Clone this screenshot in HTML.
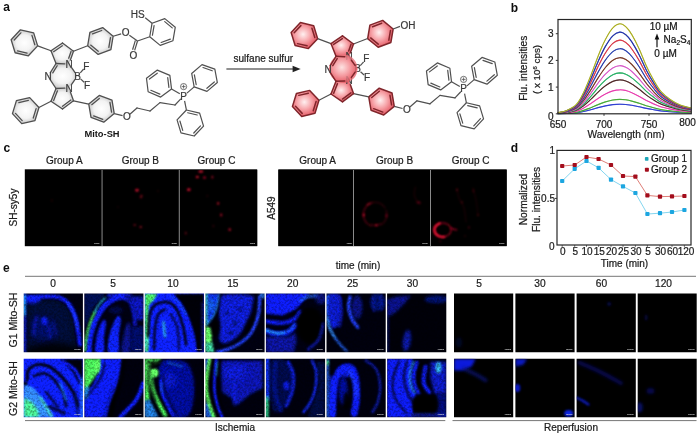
<!DOCTYPE html><html><head><meta charset="utf-8"><title>Figure</title>
<style>html,body{margin:0;padding:0;background:#fff}svg{display:block}text{font-family:"Liberation Sans", Arial, sans-serif}</style></head><body>
<svg width="700" height="435" viewBox="0 0 700 435">
<defs>
<radialGradient id="gG" cx="0.5" cy="0.5" r="0.6"><stop offset="0" stop-color="#fff"/><stop offset="0.5" stop-color="#f3f3f3"/><stop offset="1" stop-color="#b4b4b4"/></radialGradient>
<radialGradient id="gRo" cx="0.45" cy="0.45" r="0.6"><stop offset="0" stop-color="#fde0e0" stop-opacity="0.9"/><stop offset="0.5" stop-color="#f59aa0" stop-opacity="0.8"/><stop offset="1" stop-color="#e2505a" stop-opacity="0.75"/></radialGradient>
<radialGradient id="gR" cx="0.45" cy="0.45" r="0.62"><stop offset="0" stop-color="#fff0f0"/><stop offset="0.45" stop-color="#f7a5aa"/><stop offset="1" stop-color="#df4753"/></radialGradient>
<filter id="soft" x="-5%" y="-5%" width="110%" height="110%"><feGaussianBlur stdDeviation="0.42"/></filter>
<filter id="b0" filterUnits="userSpaceOnUse" x="-15" y="-15" width="110" height="110"><feGaussianBlur stdDeviation="0.25"/></filter><filter id="b1" filterUnits="userSpaceOnUse" x="-15" y="-15" width="110" height="110"><feGaussianBlur stdDeviation="0.9"/></filter><filter id="b2" filterUnits="userSpaceOnUse" x="-15" y="-15" width="110" height="110"><feGaussianBlur stdDeviation="1.8"/></filter><filter id="b3" filterUnits="userSpaceOnUse" x="-15" y="-15" width="110" height="110"><feGaussianBlur stdDeviation="3.2"/></filter><filter id="tex" filterUnits="userSpaceOnUse" x="0" y="0" width="62" height="62" color-interpolation-filters="sRGB"><feTurbulence type="fractalNoise" baseFrequency="0.45" numOctaves="2" seed="7" result="n"/><feColorMatrix in="n" type="matrix" values="2.0 0 0 0 -0.5  2.0 0 0 0 -0.5  2.0 0 0 0 -0.5  0 0 0 0 1" result="g0"/><feGaussianBlur in="g0" stdDeviation="0.45" result="g"/><feComposite in="SourceGraphic" in2="g" operator="arithmetic" k1="0.5" k2="0.78" k3="0" k4="0"/></filter>
</defs>
<rect width="700" height="435" fill="#fff"/>
<g id="panel-a" filter="url(#soft)">
<text x="3.20" y="10.80" font-size="12" text-anchor="start" font-weight="bold" fill="#111" >a</text>
<g transform="translate(0,0)"><polygon points="56.00,63.50 51.00,50.80 62.50,43.00 73.50,51.20 69.00,64.00" fill="url(#gG)"/><polygon points="56.00,88.50 51.00,101.20 62.50,109.00 73.50,100.80 69.00,88.00" fill="url(#gG)"/><polygon points="56.00,63.50 69.00,64.00 77.50,76.00 69.00,88.00 56.00,88.50 48.00,76.40" fill="url(#gG)"/><text x="69.00" y="67.50" font-size="10" text-anchor="middle" font-weight="normal" fill="#3a3a3a" stroke="#3a3a3a" stroke-width="0.22" >N</text><text x="69.00" y="91.50" font-size="10" text-anchor="middle" font-weight="normal" fill="#3a3a3a" stroke="#3a3a3a" stroke-width="0.22" >N</text><text x="77.50" y="79.50" font-size="10" text-anchor="middle" font-weight="normal" fill="#3a3a3a" stroke="#3a3a3a" stroke-width="0.22" >B</text><polygon points="37.65,45.86 28.38,55.81 15.12,52.75 11.15,39.74 20.42,29.79 33.68,32.85" fill="url(#gG)" stroke="#505050" stroke-width="1.3" stroke-linejoin="round"/><line x1="27.06" y1="53.04" x2="17.52" y2="50.84" stroke="#505050" stroke-width="1.3" stroke-linecap="round"/><line x1="14.20" y1="39.98" x2="20.88" y2="32.82" stroke="#505050" stroke-width="1.3" stroke-linecap="round"/><line x1="31.94" y1="35.38" x2="34.80" y2="44.74" stroke="#505050" stroke-width="1.3" stroke-linecap="round"/><polygon points="113.14,36.24 110.89,49.65 98.16,54.41 87.66,45.76 89.91,32.35 102.64,27.59" fill="url(#gG)" stroke="#505050" stroke-width="1.3" stroke-linejoin="round"/><line x1="110.46" y1="37.72" x2="108.84" y2="47.38" stroke="#505050" stroke-width="1.3" stroke-linecap="round"/><line x1="98.21" y1="51.35" x2="90.66" y2="45.12" stroke="#505050" stroke-width="1.3" stroke-linecap="round"/><line x1="92.53" y1="33.93" x2="101.70" y2="30.50" stroke="#505050" stroke-width="1.3" stroke-linecap="round"/><polygon points="38.95,107.54 34.98,120.55 21.72,123.61 12.45,113.66 16.42,100.65 29.68,97.59" fill="url(#gG)" stroke="#505050" stroke-width="1.3" stroke-linejoin="round"/><line x1="36.10" y1="108.66" x2="33.24" y2="118.02" stroke="#505050" stroke-width="1.3" stroke-linecap="round"/><line x1="22.18" y1="120.58" x2="15.50" y2="113.42" stroke="#505050" stroke-width="1.3" stroke-linecap="round"/><line x1="18.82" y1="102.56" x2="28.36" y2="100.36" stroke="#505050" stroke-width="1.3" stroke-linecap="round"/><polygon points="114.24,113.56 103.74,122.21 91.01,117.45 88.76,104.04 99.26,95.39 111.99,100.15" fill="url(#gG)" stroke="#505050" stroke-width="1.3" stroke-linejoin="round"/><line x1="102.80" y1="119.30" x2="93.63" y2="115.87" stroke="#505050" stroke-width="1.3" stroke-linecap="round"/><line x1="91.76" y1="104.68" x2="99.31" y2="98.45" stroke="#505050" stroke-width="1.3" stroke-linecap="round"/><line x1="109.94" y1="102.42" x2="111.56" y2="112.08" stroke="#505050" stroke-width="1.3" stroke-linecap="round"/><line x1="37.65" y1="45.86" x2="51.00" y2="50.80" stroke="#505050" stroke-width="1.2" /><line x1="87.66" y1="45.76" x2="73.50" y2="51.20" stroke="#505050" stroke-width="1.2" /><line x1="38.95" y1="107.54" x2="51.00" y2="101.20" stroke="#505050" stroke-width="1.2" /><line x1="88.76" y1="104.04" x2="73.50" y2="100.80" stroke="#505050" stroke-width="1.2" /><line x1="56.00" y1="63.50" x2="51.00" y2="50.80" stroke="#505050" stroke-width="1.3" stroke-linecap="round"/><line x1="51.00" y1="50.80" x2="62.50" y2="43.00" stroke="#505050" stroke-width="1.3" stroke-linecap="round"/><line x1="62.50" y1="43.00" x2="73.50" y2="51.20" stroke="#505050" stroke-width="1.3" stroke-linecap="round"/><line x1="73.50" y1="51.20" x2="70.39" y2="60.04" stroke="#505050" stroke-width="1.3" stroke-linecap="round"/><line x1="64.80" y1="63.84" x2="56.00" y2="63.50" stroke="#505050" stroke-width="1.3" stroke-linecap="round"/><line x1="56.00" y1="88.50" x2="51.00" y2="101.20" stroke="#505050" stroke-width="1.3" stroke-linecap="round"/><line x1="51.00" y1="101.20" x2="62.50" y2="109.00" stroke="#505050" stroke-width="1.3" stroke-linecap="round"/><line x1="62.50" y1="109.00" x2="73.50" y2="100.80" stroke="#505050" stroke-width="1.3" stroke-linecap="round"/><line x1="73.50" y1="100.80" x2="70.39" y2="91.96" stroke="#505050" stroke-width="1.3" stroke-linecap="round"/><line x1="64.80" y1="88.16" x2="56.00" y2="88.50" stroke="#505050" stroke-width="1.3" stroke-linecap="round"/><line x1="56.00" y1="63.50" x2="50.21" y2="72.83" stroke="#505050" stroke-width="1.3" stroke-linecap="round"/><line x1="56.00" y1="88.50" x2="50.32" y2="79.90" stroke="#505050" stroke-width="1.3" stroke-linecap="round"/><line x1="71.43" y1="67.43" x2="75.07" y2="72.57" stroke="#505050" stroke-width="1.3" stroke-linecap="round"/><line x1="71.43" y1="84.57" x2="75.07" y2="79.43" stroke="#505050" stroke-width="1.3" stroke-linecap="round"/><line x1="53.61" y1="51.68" x2="62.35" y2="45.76" stroke="#505050" stroke-width="1.3" stroke-linecap="round"/><line x1="71.05" y1="51.53" x2="68.69" y2="58.25" stroke="#505050" stroke-width="1.3" stroke-linecap="round"/><line x1="57.18" y1="65.78" x2="52.78" y2="72.87" stroke="#505050" stroke-width="1.3" stroke-linecap="round"/><line x1="57.45" y1="90.83" x2="53.65" y2="100.48" stroke="#505050" stroke-width="1.3" stroke-linecap="round"/><line x1="62.51" y1="106.25" x2="70.87" y2="100.02" stroke="#505050" stroke-width="1.3" stroke-linecap="round"/><line x1="80.27" y1="72.85" x2="83.66" y2="69.00" stroke="#505050" stroke-width="1.2" /><line x1="80.55" y1="78.89" x2="84.10" y2="82.25" stroke="#505050" stroke-width="1.2" /><text x="48.00" y="79.90" font-size="10" text-anchor="middle" font-weight="normal" fill="#3a3a3a" stroke="#3a3a3a" stroke-width="0.22" >N</text><text x="86.30" y="69.50" font-size="10" text-anchor="middle" font-weight="normal" fill="#3a3a3a" stroke="#3a3a3a" stroke-width="0.22" >F</text><text x="87.00" y="88.50" font-size="10" text-anchor="middle" font-weight="normal" fill="#3a3a3a" stroke="#3a3a3a" stroke-width="0.22" >F</text><line x1="114.24" y1="113.56" x2="122.54" y2="115.67" stroke="#505050" stroke-width="1.2" /><line x1="130.45" y1="113.76" x2="137.00" y2="108.00" stroke="#505050" stroke-width="1.2" stroke-linecap="round"/><line x1="137.00" y1="108.00" x2="150.00" y2="111.00" stroke="#505050" stroke-width="1.2" stroke-linecap="round"/><line x1="150.00" y1="111.00" x2="160.00" y2="102.60" stroke="#505050" stroke-width="1.2" stroke-linecap="round"/><line x1="160.00" y1="102.60" x2="175.00" y2="105.00" stroke="#505050" stroke-width="1.2" stroke-linecap="round"/><line x1="175.00" y1="105.00" x2="180.56" y2="99.18" stroke="#505050" stroke-width="1.2" stroke-linecap="round"/><text x="127.00" y="120.40" font-size="10" text-anchor="middle" font-weight="normal" fill="#3a3a3a" stroke="#3a3a3a" stroke-width="0.22" >O</text><text x="183.60" y="99.60" font-size="10" text-anchor="middle" font-weight="normal" fill="#3a3a3a" stroke="#3a3a3a" stroke-width="0.22" >P</text><polygon points="171.52,88.91 160.66,97.10 148.14,91.78 146.48,78.29 157.34,70.10 169.86,75.42" fill="none" stroke="#505050" stroke-width="1.2" stroke-linejoin="round"/><line x1="159.84" y1="94.15" x2="150.83" y2="90.32" stroke="#505050" stroke-width="1.2" stroke-linecap="round"/><line x1="149.45" y1="79.06" x2="157.27" y2="73.16" stroke="#505050" stroke-width="1.2" stroke-linecap="round"/><line x1="167.71" y1="77.60" x2="168.90" y2="87.32" stroke="#505050" stroke-width="1.2" stroke-linecap="round"/><polygon points="217.33,82.52 207.00,91.37 194.17,86.85 191.67,73.48 202.00,64.63 214.83,69.15" fill="none" stroke="#505050" stroke-width="1.2" stroke-linejoin="round"/><line x1="214.32" y1="81.93" x2="206.89" y2="88.31" stroke="#505050" stroke-width="1.2" stroke-linecap="round"/><line x1="196.18" y1="84.54" x2="194.38" y2="74.91" stroke="#505050" stroke-width="1.2" stroke-linecap="round"/><line x1="203.00" y1="67.53" x2="212.23" y2="70.78" stroke="#505050" stroke-width="1.2" stroke-linecap="round"/><polygon points="203.54,126.13 194.21,136.03 180.97,132.90 177.06,119.87 186.39,109.97 199.63,113.10" fill="none" stroke="#505050" stroke-width="1.2" stroke-linejoin="round"/><line x1="200.48" y1="125.87" x2="193.77" y2="132.99" stroke="#505050" stroke-width="1.2" stroke-linecap="round"/><line x1="182.72" y1="130.38" x2="179.91" y2="121.01" stroke="#505050" stroke-width="1.2" stroke-linecap="round"/><line x1="187.69" y1="112.75" x2="197.22" y2="115.00" stroke="#505050" stroke-width="1.2" stroke-linecap="round"/><line x1="171.52" y1="88.91" x2="179.80" y2="93.77" stroke="#505050" stroke-width="1.2" /><line x1="194.17" y1="86.85" x2="186.93" y2="93.12" stroke="#505050" stroke-width="1.2" /><line x1="186.39" y1="109.97" x2="184.58" y2="100.90" stroke="#505050" stroke-width="1.2" /><circle cx="183.6" cy="86.6" r="3.1" fill="none" stroke="#505050" stroke-width="0.8"/><line x1="181.60" y1="86.60" x2="185.60" y2="86.60" stroke="#505050" stroke-width="0.8" /><line x1="183.60" y1="84.60" x2="183.60" y2="88.60" stroke="#505050" stroke-width="0.8" /><line x1="113.14" y1="36.24" x2="121.18" y2="33.89" stroke="#505050" stroke-width="1.2" /><line x1="129.36" y1="35.25" x2="137.50" y2="41.00" stroke="#505050" stroke-width="1.2" /><line x1="137.50" y1="41.00" x2="134.68" y2="50.40" stroke="#505050" stroke-width="1.2" /><line x1="135.39" y1="40.37" x2="132.57" y2="49.77" stroke="#505050" stroke-width="1.2" /><text x="125.60" y="36.20" font-size="10" text-anchor="middle" font-weight="normal" fill="#3a3a3a" stroke="#3a3a3a" stroke-width="0.22" >O</text><text x="133.30" y="58.60" font-size="10" text-anchor="middle" font-weight="normal" fill="#3a3a3a" stroke="#3a3a3a" stroke-width="0.22" >O</text><polygon points="175.26,27.28 172.96,40.69 160.21,45.41 149.74,36.72 152.04,23.31 164.79,18.59" fill="none" stroke="#505050" stroke-width="1.2" stroke-linejoin="round"/><line x1="170.35" y1="39.10" x2="161.16" y2="42.49" stroke="#505050" stroke-width="1.2" stroke-linecap="round"/><line x1="152.43" y1="35.25" x2="154.08" y2="25.59" stroke="#505050" stroke-width="1.2" stroke-linecap="round"/><line x1="164.72" y1="21.66" x2="172.26" y2="27.91" stroke="#505050" stroke-width="1.2" stroke-linecap="round"/><line x1="137.50" y1="41.00" x2="149.74" y2="36.72" stroke="#505050" stroke-width="1.2" /><text x="144.60" y="18.00" font-size="10" text-anchor="end" font-weight="normal" fill="#3a3a3a" stroke="#3a3a3a" stroke-width="0.22" >HS</text><line x1="145.20" y1="17.80" x2="152.04" y2="23.31" stroke="#505050" stroke-width="1.2" /><text x="102.00" y="136.60" font-size="9.3" text-anchor="middle" font-weight="bold" fill="#151515" >Mito-SH</text></g>
<g transform="translate(280,-7.2)"><polygon points="56.00,63.50 51.00,50.80 62.50,43.00 73.50,51.20 69.00,64.00" fill="url(#gR)"/><polygon points="56.00,88.50 51.00,101.20 62.50,109.00 73.50,100.80 69.00,88.00" fill="url(#gR)"/><polygon points="56.00,63.50 69.00,64.00 77.50,76.00 69.00,88.00 56.00,88.50 48.00,76.40" fill="url(#gR)"/><text x="69.00" y="67.50" font-size="10" text-anchor="middle" font-weight="normal" fill="#3a3a3a" stroke="#3a3a3a" stroke-width="0.22" >N</text><text x="69.00" y="91.50" font-size="10" text-anchor="middle" font-weight="normal" fill="#3a3a3a" stroke="#3a3a3a" stroke-width="0.22" >N</text><text x="77.50" y="79.50" font-size="10" text-anchor="middle" font-weight="normal" fill="#3a3a3a" stroke="#3a3a3a" stroke-width="0.22" >B</text><circle cx="63.3" cy="76" r="14.2" fill="url(#gRo)"/><polygon points="37.65,45.86 28.38,55.81 15.12,52.75 11.15,39.74 20.42,29.79 33.68,32.85" fill="url(#gR)" stroke="#80262c" stroke-width="1.5" stroke-linejoin="round"/><line x1="27.06" y1="53.04" x2="17.52" y2="50.84" stroke="#80262c" stroke-width="1.5" stroke-linecap="round"/><line x1="14.20" y1="39.98" x2="20.88" y2="32.82" stroke="#80262c" stroke-width="1.5" stroke-linecap="round"/><line x1="31.94" y1="35.38" x2="34.80" y2="44.74" stroke="#80262c" stroke-width="1.5" stroke-linecap="round"/><polygon points="113.14,36.24 110.89,49.65 98.16,54.41 87.66,45.76 89.91,32.35 102.64,27.59" fill="url(#gR)" stroke="#80262c" stroke-width="1.5" stroke-linejoin="round"/><line x1="110.46" y1="37.72" x2="108.84" y2="47.38" stroke="#80262c" stroke-width="1.5" stroke-linecap="round"/><line x1="98.21" y1="51.35" x2="90.66" y2="45.12" stroke="#80262c" stroke-width="1.5" stroke-linecap="round"/><line x1="92.53" y1="33.93" x2="101.70" y2="30.50" stroke="#80262c" stroke-width="1.5" stroke-linecap="round"/><polygon points="38.95,107.54 34.98,120.55 21.72,123.61 12.45,113.66 16.42,100.65 29.68,97.59" fill="url(#gR)" stroke="#80262c" stroke-width="1.5" stroke-linejoin="round"/><line x1="36.10" y1="108.66" x2="33.24" y2="118.02" stroke="#80262c" stroke-width="1.5" stroke-linecap="round"/><line x1="22.18" y1="120.58" x2="15.50" y2="113.42" stroke="#80262c" stroke-width="1.5" stroke-linecap="round"/><line x1="18.82" y1="102.56" x2="28.36" y2="100.36" stroke="#80262c" stroke-width="1.5" stroke-linecap="round"/><polygon points="114.24,113.56 103.74,122.21 91.01,117.45 88.76,104.04 99.26,95.39 111.99,100.15" fill="url(#gR)" stroke="#80262c" stroke-width="1.5" stroke-linejoin="round"/><line x1="102.80" y1="119.30" x2="93.63" y2="115.87" stroke="#80262c" stroke-width="1.5" stroke-linecap="round"/><line x1="91.76" y1="104.68" x2="99.31" y2="98.45" stroke="#80262c" stroke-width="1.5" stroke-linecap="round"/><line x1="109.94" y1="102.42" x2="111.56" y2="112.08" stroke="#80262c" stroke-width="1.5" stroke-linecap="round"/><line x1="37.65" y1="45.86" x2="51.00" y2="50.80" stroke="#505050" stroke-width="1.2" /><line x1="87.66" y1="45.76" x2="73.50" y2="51.20" stroke="#505050" stroke-width="1.2" /><line x1="38.95" y1="107.54" x2="51.00" y2="101.20" stroke="#505050" stroke-width="1.2" /><line x1="88.76" y1="104.04" x2="73.50" y2="100.80" stroke="#505050" stroke-width="1.2" /><line x1="56.00" y1="63.50" x2="51.00" y2="50.80" stroke="#80262c" stroke-width="1.5" stroke-linecap="round"/><line x1="51.00" y1="50.80" x2="62.50" y2="43.00" stroke="#80262c" stroke-width="1.5" stroke-linecap="round"/><line x1="62.50" y1="43.00" x2="73.50" y2="51.20" stroke="#80262c" stroke-width="1.5" stroke-linecap="round"/><line x1="73.50" y1="51.20" x2="70.39" y2="60.04" stroke="#80262c" stroke-width="1.5" stroke-linecap="round"/><line x1="64.80" y1="63.84" x2="56.00" y2="63.50" stroke="#80262c" stroke-width="1.5" stroke-linecap="round"/><line x1="56.00" y1="88.50" x2="51.00" y2="101.20" stroke="#80262c" stroke-width="1.5" stroke-linecap="round"/><line x1="51.00" y1="101.20" x2="62.50" y2="109.00" stroke="#80262c" stroke-width="1.5" stroke-linecap="round"/><line x1="62.50" y1="109.00" x2="73.50" y2="100.80" stroke="#80262c" stroke-width="1.5" stroke-linecap="round"/><line x1="73.50" y1="100.80" x2="70.39" y2="91.96" stroke="#80262c" stroke-width="1.5" stroke-linecap="round"/><line x1="64.80" y1="88.16" x2="56.00" y2="88.50" stroke="#80262c" stroke-width="1.5" stroke-linecap="round"/><line x1="56.00" y1="63.50" x2="50.21" y2="72.83" stroke="#80262c" stroke-width="1.5" stroke-linecap="round"/><line x1="56.00" y1="88.50" x2="50.32" y2="79.90" stroke="#80262c" stroke-width="1.5" stroke-linecap="round"/><line x1="71.43" y1="67.43" x2="75.07" y2="72.57" stroke="#80262c" stroke-width="1.5" stroke-linecap="round"/><line x1="71.43" y1="84.57" x2="75.07" y2="79.43" stroke="#80262c" stroke-width="1.5" stroke-linecap="round"/><line x1="53.61" y1="51.68" x2="62.35" y2="45.76" stroke="#80262c" stroke-width="1.5" stroke-linecap="round"/><line x1="71.05" y1="51.53" x2="68.69" y2="58.25" stroke="#80262c" stroke-width="1.5" stroke-linecap="round"/><line x1="57.18" y1="65.78" x2="52.78" y2="72.87" stroke="#80262c" stroke-width="1.5" stroke-linecap="round"/><line x1="57.45" y1="90.83" x2="53.65" y2="100.48" stroke="#80262c" stroke-width="1.5" stroke-linecap="round"/><line x1="62.51" y1="106.25" x2="70.87" y2="100.02" stroke="#80262c" stroke-width="1.5" stroke-linecap="round"/><line x1="80.27" y1="72.85" x2="83.66" y2="69.00" stroke="#505050" stroke-width="1.2" /><line x1="80.55" y1="78.89" x2="84.10" y2="82.25" stroke="#505050" stroke-width="1.2" /><text x="48.00" y="79.90" font-size="10" text-anchor="middle" font-weight="normal" fill="#3a3a3a" stroke="#3a3a3a" stroke-width="0.22" >N</text><text x="86.30" y="69.50" font-size="10" text-anchor="middle" font-weight="normal" fill="#3a3a3a" stroke="#3a3a3a" stroke-width="0.22" >F</text><text x="87.00" y="88.50" font-size="10" text-anchor="middle" font-weight="normal" fill="#3a3a3a" stroke="#3a3a3a" stroke-width="0.22" >F</text><line x1="114.24" y1="113.56" x2="122.54" y2="115.67" stroke="#505050" stroke-width="1.2" /><line x1="130.45" y1="113.76" x2="137.00" y2="108.00" stroke="#505050" stroke-width="1.2" stroke-linecap="round"/><line x1="137.00" y1="108.00" x2="150.00" y2="111.00" stroke="#505050" stroke-width="1.2" stroke-linecap="round"/><line x1="150.00" y1="111.00" x2="160.00" y2="102.60" stroke="#505050" stroke-width="1.2" stroke-linecap="round"/><line x1="160.00" y1="102.60" x2="175.00" y2="105.00" stroke="#505050" stroke-width="1.2" stroke-linecap="round"/><line x1="175.00" y1="105.00" x2="180.56" y2="99.18" stroke="#505050" stroke-width="1.2" stroke-linecap="round"/><text x="127.00" y="120.40" font-size="10" text-anchor="middle" font-weight="normal" fill="#3a3a3a" stroke="#3a3a3a" stroke-width="0.22" >O</text><text x="183.60" y="99.60" font-size="10" text-anchor="middle" font-weight="normal" fill="#3a3a3a" stroke="#3a3a3a" stroke-width="0.22" >P</text><polygon points="171.52,88.91 160.66,97.10 148.14,91.78 146.48,78.29 157.34,70.10 169.86,75.42" fill="none" stroke="#505050" stroke-width="1.2" stroke-linejoin="round"/><line x1="159.84" y1="94.15" x2="150.83" y2="90.32" stroke="#505050" stroke-width="1.2" stroke-linecap="round"/><line x1="149.45" y1="79.06" x2="157.27" y2="73.16" stroke="#505050" stroke-width="1.2" stroke-linecap="round"/><line x1="167.71" y1="77.60" x2="168.90" y2="87.32" stroke="#505050" stroke-width="1.2" stroke-linecap="round"/><polygon points="217.33,82.52 207.00,91.37 194.17,86.85 191.67,73.48 202.00,64.63 214.83,69.15" fill="none" stroke="#505050" stroke-width="1.2" stroke-linejoin="round"/><line x1="214.32" y1="81.93" x2="206.89" y2="88.31" stroke="#505050" stroke-width="1.2" stroke-linecap="round"/><line x1="196.18" y1="84.54" x2="194.38" y2="74.91" stroke="#505050" stroke-width="1.2" stroke-linecap="round"/><line x1="203.00" y1="67.53" x2="212.23" y2="70.78" stroke="#505050" stroke-width="1.2" stroke-linecap="round"/><polygon points="203.54,126.13 194.21,136.03 180.97,132.90 177.06,119.87 186.39,109.97 199.63,113.10" fill="none" stroke="#505050" stroke-width="1.2" stroke-linejoin="round"/><line x1="200.48" y1="125.87" x2="193.77" y2="132.99" stroke="#505050" stroke-width="1.2" stroke-linecap="round"/><line x1="182.72" y1="130.38" x2="179.91" y2="121.01" stroke="#505050" stroke-width="1.2" stroke-linecap="round"/><line x1="187.69" y1="112.75" x2="197.22" y2="115.00" stroke="#505050" stroke-width="1.2" stroke-linecap="round"/><line x1="171.52" y1="88.91" x2="179.80" y2="93.77" stroke="#505050" stroke-width="1.2" /><line x1="194.17" y1="86.85" x2="186.93" y2="93.12" stroke="#505050" stroke-width="1.2" /><line x1="186.39" y1="109.97" x2="184.58" y2="100.90" stroke="#505050" stroke-width="1.2" /><circle cx="183.6" cy="86.6" r="3.1" fill="none" stroke="#505050" stroke-width="0.8"/><line x1="181.60" y1="86.60" x2="185.60" y2="86.60" stroke="#505050" stroke-width="0.8" /><line x1="183.60" y1="84.60" x2="183.60" y2="88.60" stroke="#505050" stroke-width="0.8" /><text x="120.60" y="35.80" font-size="10" text-anchor="start" font-weight="normal" fill="#3a3a3a" stroke="#3a3a3a" stroke-width="0.22" >OH</text><line x1="113.14" y1="36.24" x2="120.00" y2="33.60" stroke="#505050" stroke-width="1.2" /></g>
<line x1="226.40" y1="69.00" x2="294.00" y2="69.00" stroke="#222" stroke-width="1.1" />
<polygon points="300.6,69 292.6,65.8 292.6,72.2" fill="#222"/>
<text x="263.30" y="62.00" font-size="10" text-anchor="middle" font-weight="normal" fill="#1c1c1c" stroke="#1c1c1c" stroke-width="0.22" >sulfane sulfur</text>
</g>
<g id="panel-b" filter="url(#soft)">
<text x="510.80" y="12.20" font-size="12" text-anchor="start" font-weight="bold" fill="#111" >b</text>
<path d="M557.8,113.7 C559.3,113.6 563.7,113.6 566.8,113.4 C569.9,113.3 573.6,113.1 576.4,112.8 C579.2,112.5 581.2,112.0 583.6,111.5 C586.0,111.0 588.4,110.4 590.8,109.7 C593.2,109.1 595.7,108.3 598.1,107.6 C600.5,107.0 602.9,106.4 605.4,105.9 C607.9,105.4 610.4,104.9 612.8,104.6 C615.2,104.3 617.6,104.2 619.8,104.2 C622.0,104.2 623.8,104.3 625.8,104.5 C627.8,104.7 629.6,105.0 631.8,105.3 C634.0,105.7 636.8,106.3 639.2,106.8 C641.6,107.3 644.0,107.9 646.4,108.4 C648.8,108.9 651.3,109.3 653.7,109.7 C656.1,110.1 658.0,110.5 660.8,110.9 C663.6,111.2 667.4,111.5 670.6,111.8 C673.8,112.1 676.8,112.3 680.2,112.5 C683.6,112.7 689.3,112.9 691.1,113.0" fill="none" stroke="#4050e0" stroke-width="1.15" stroke-linejoin="round"/>
<path d="M557.8,113.7 C559.3,113.6 563.7,113.6 566.8,113.4 C569.9,113.3 573.6,113.1 576.4,112.8 C579.2,112.5 581.2,112.0 583.6,111.5 C586.0,111.0 588.4,110.4 590.8,109.7 C593.2,109.1 595.7,108.3 598.1,107.6 C600.5,107.0 602.9,106.4 605.4,105.9 C607.9,105.4 610.4,104.9 612.8,104.6 C615.2,104.3 617.6,104.2 619.8,104.2 C622.0,104.2 623.8,104.3 625.8,104.5 C627.8,104.7 629.6,105.0 631.8,105.3 C634.0,105.7 636.8,106.3 639.2,106.8 C641.6,107.3 644.0,107.9 646.4,108.4 C648.8,108.9 651.3,109.3 653.7,109.7 C656.1,110.1 658.0,110.5 660.8,110.9 C663.6,111.2 667.4,111.5 670.6,111.8 C673.8,112.1 676.8,112.3 680.2,112.5 C683.6,112.7 689.3,112.9 691.1,113.0" fill="none" stroke="#2535c5" stroke-width="0.65" stroke-linejoin="round"/>
<path d="M557.8,113.6 C559.3,113.6 563.7,113.5 566.8,113.3 C569.9,113.0 573.6,112.8 576.4,112.3 C579.2,111.8 581.2,111.2 583.6,110.4 C586.0,109.6 588.4,108.6 590.8,107.7 C593.2,106.7 595.7,105.5 598.1,104.6 C600.5,103.6 602.9,102.7 605.4,101.9 C607.9,101.1 610.4,100.5 612.8,100.0 C615.2,99.6 617.6,99.4 619.8,99.4 C622.0,99.4 623.8,99.6 625.8,99.8 C627.8,100.1 629.6,100.5 631.8,101.1 C634.0,101.7 636.8,102.6 639.2,103.3 C641.6,104.1 644.0,105.0 646.4,105.8 C648.8,106.5 651.3,107.2 653.7,107.8 C656.1,108.4 658.0,109.0 660.8,109.5 C663.6,110.0 667.4,110.5 670.6,110.9 C673.8,111.3 676.8,111.7 680.2,111.9 C683.6,112.2 689.3,112.5 691.1,112.6" fill="none" stroke="#60b840" stroke-width="1.15" stroke-linejoin="round"/>
<path d="M557.8,113.6 C559.3,113.6 563.7,113.5 566.8,113.3 C569.9,113.0 573.6,112.8 576.4,112.3 C579.2,111.8 581.2,111.2 583.6,110.4 C586.0,109.6 588.4,108.6 590.8,107.7 C593.2,106.7 595.7,105.5 598.1,104.6 C600.5,103.6 602.9,102.7 605.4,101.9 C607.9,101.1 610.4,100.5 612.8,100.0 C615.2,99.6 617.6,99.4 619.8,99.4 C622.0,99.4 623.8,99.6 625.8,99.8 C627.8,100.1 629.6,100.5 631.8,101.1 C634.0,101.7 636.8,102.6 639.2,103.3 C641.6,104.1 644.0,105.0 646.4,105.8 C648.8,106.5 651.3,107.2 653.7,107.8 C656.1,108.4 658.0,109.0 660.8,109.5 C663.6,110.0 667.4,110.5 670.6,110.9 C673.8,111.3 676.8,111.7 680.2,111.9 C683.6,112.2 689.3,112.5 691.1,112.6" fill="none" stroke="#35a035" stroke-width="0.65" stroke-linejoin="round"/>
<path d="M557.8,113.5 C559.3,113.4 563.7,113.3 566.8,112.9 C569.9,112.5 573.6,112.1 576.4,111.3 C579.2,110.5 581.2,109.4 583.6,108.1 C586.0,106.8 588.4,105.2 590.8,103.6 C593.2,101.9 595.7,100.0 598.1,98.4 C600.5,96.8 602.9,95.2 605.4,94.0 C607.9,92.7 610.4,91.6 612.8,90.9 C615.2,90.2 617.6,89.8 619.8,89.8 C622.0,89.7 623.8,90.1 625.8,90.5 C627.8,91.0 629.6,91.7 631.8,92.7 C634.0,93.6 636.8,95.1 639.2,96.4 C641.6,97.7 644.0,99.2 646.4,100.5 C648.8,101.7 651.3,102.8 653.7,103.9 C656.1,104.9 658.0,105.9 660.8,106.8 C663.6,107.6 667.4,108.4 670.6,109.1 C673.8,109.8 676.8,110.3 680.2,110.8 C683.6,111.2 689.3,111.6 691.1,111.8" fill="none" stroke="#f060c0" stroke-width="1.15" stroke-linejoin="round"/>
<path d="M557.8,113.5 C559.3,113.4 563.7,113.3 566.8,112.9 C569.9,112.5 573.6,112.1 576.4,111.3 C579.2,110.5 581.2,109.4 583.6,108.1 C586.0,106.8 588.4,105.2 590.8,103.6 C593.2,101.9 595.7,100.0 598.1,98.4 C600.5,96.8 602.9,95.2 605.4,94.0 C607.9,92.7 610.4,91.6 612.8,90.9 C615.2,90.2 617.6,89.8 619.8,89.8 C622.0,89.7 623.8,90.1 625.8,90.5 C627.8,91.0 629.6,91.7 631.8,92.7 C634.0,93.6 636.8,95.1 639.2,96.4 C641.6,97.7 644.0,99.2 646.4,100.5 C648.8,101.7 651.3,102.8 653.7,103.9 C656.1,104.9 658.0,105.9 660.8,106.8 C663.6,107.6 667.4,108.4 670.6,109.1 C673.8,109.8 676.8,110.3 680.2,110.8 C683.6,111.2 689.3,111.6 691.1,111.8" fill="none" stroke="#e025a0" stroke-width="0.65" stroke-linejoin="round"/>
<path d="M557.8,113.4 C559.3,113.2 563.7,113.0 566.8,112.5 C569.9,112.0 573.6,111.4 576.4,110.3 C579.2,109.1 581.2,107.6 583.6,105.8 C586.0,103.9 588.4,101.6 590.8,99.4 C593.2,97.1 595.7,94.4 598.1,92.1 C600.5,89.8 602.9,87.6 605.4,85.8 C607.9,84.0 610.4,82.4 612.8,81.4 C615.2,80.4 617.6,80.0 619.8,79.9 C622.0,79.8 623.8,80.3 625.8,81.0 C627.8,81.7 629.6,82.6 631.8,84.0 C634.0,85.3 636.8,87.4 639.2,89.2 C641.6,91.1 644.0,93.3 646.4,95.1 C648.8,96.9 651.3,98.5 653.7,100.0 C656.1,101.5 658.0,102.8 660.8,104.0 C663.6,105.3 667.4,106.4 670.6,107.3 C673.8,108.2 676.8,109.0 680.2,109.7 C683.6,110.3 689.3,110.8 691.1,111.1" fill="none" stroke="#6a3a3a" stroke-width="1.15" stroke-linejoin="round"/>
<path d="M557.8,113.4 C559.3,113.2 563.7,113.0 566.8,112.5 C569.9,112.0 573.6,111.4 576.4,110.3 C579.2,109.1 581.2,107.6 583.6,105.8 C586.0,103.9 588.4,101.6 590.8,99.4 C593.2,97.1 595.7,94.4 598.1,92.1 C600.5,89.8 602.9,87.6 605.4,85.8 C607.9,84.0 610.4,82.4 612.8,81.4 C615.2,80.4 617.6,80.0 619.8,79.9 C622.0,79.8 623.8,80.3 625.8,81.0 C627.8,81.7 629.6,82.6 631.8,84.0 C634.0,85.3 636.8,87.4 639.2,89.2 C641.6,91.1 644.0,93.3 646.4,95.1 C648.8,96.9 651.3,98.5 653.7,100.0 C656.1,101.5 658.0,102.8 660.8,104.0 C663.6,105.3 667.4,106.4 670.6,107.3 C673.8,108.2 676.8,109.0 680.2,109.7 C683.6,110.3 689.3,110.8 691.1,111.1" fill="none" stroke="#3a2222" stroke-width="0.65" stroke-linejoin="round"/>
<path d="M557.8,113.3 C559.3,113.1 563.7,112.9 566.8,112.2 C569.9,111.6 573.6,110.9 576.4,109.6 C579.2,108.2 581.2,106.3 583.6,104.1 C586.0,101.9 588.4,99.1 590.8,96.4 C593.2,93.7 595.7,90.4 598.1,87.7 C600.5,84.9 602.9,82.2 605.4,80.1 C607.9,78.0 610.4,76.0 612.8,74.8 C615.2,73.6 617.6,73.0 619.8,72.9 C622.0,72.9 623.8,73.4 625.8,74.3 C627.8,75.1 629.6,76.2 631.8,77.9 C634.0,79.5 636.8,82.0 639.2,84.2 C641.6,86.5 644.0,89.2 646.4,91.4 C648.8,93.6 651.3,95.5 653.7,97.3 C656.1,99.2 658.0,100.8 660.8,102.3 C663.6,103.7 667.4,105.1 670.6,106.2 C673.8,107.3 676.8,108.2 680.2,109.0 C683.6,109.7 689.3,110.3 691.1,110.6" fill="none" stroke="#2fae4a" stroke-width="1.15" stroke-linejoin="round"/>
<path d="M557.8,113.3 C559.3,113.1 563.7,112.9 566.8,112.2 C569.9,111.6 573.6,110.9 576.4,109.6 C579.2,108.2 581.2,106.3 583.6,104.1 C586.0,101.9 588.4,99.1 590.8,96.4 C593.2,93.7 595.7,90.4 598.1,87.7 C600.5,84.9 602.9,82.2 605.4,80.1 C607.9,78.0 610.4,76.0 612.8,74.8 C615.2,73.6 617.6,73.0 619.8,72.9 C622.0,72.9 623.8,73.4 625.8,74.3 C627.8,75.1 629.6,76.2 631.8,77.9 C634.0,79.5 636.8,82.0 639.2,84.2 C641.6,86.5 644.0,89.2 646.4,91.4 C648.8,93.6 651.3,95.5 653.7,97.3 C656.1,99.2 658.0,100.8 660.8,102.3 C663.6,103.7 667.4,105.1 670.6,106.2 C673.8,107.3 676.8,108.2 680.2,109.0 C683.6,109.7 689.3,110.3 691.1,110.6" fill="none" stroke="#22b58a" stroke-width="0.65" stroke-linejoin="round"/>
<path d="M557.8,113.2 C559.3,113.0 563.7,112.7 566.8,112.0 C569.9,111.2 573.6,110.4 576.4,108.8 C579.2,107.2 581.2,105.0 583.6,102.4 C586.0,99.8 588.4,96.6 590.8,93.3 C593.2,90.1 595.7,86.2 598.1,83.0 C600.5,79.8 602.9,76.7 605.4,74.2 C607.9,71.6 610.4,69.3 612.8,67.9 C615.2,66.5 617.6,65.8 619.8,65.7 C622.0,65.6 623.8,66.3 625.8,67.3 C627.8,68.2 629.6,69.5 631.8,71.5 C634.0,73.5 636.8,76.4 639.2,79.0 C641.6,81.7 644.0,85.0 646.4,87.6 C648.8,90.2 651.3,92.5 653.7,94.7 C656.1,96.8 658.0,98.8 660.8,100.5 C663.6,102.2 667.4,103.8 670.6,105.1 C673.8,106.4 676.8,107.4 680.2,108.3 C683.6,109.1 689.3,109.8 691.1,110.1" fill="none" stroke="#e070d0" stroke-width="1.15" stroke-linejoin="round"/>
<path d="M557.8,113.2 C559.3,113.0 563.7,112.7 566.8,112.0 C569.9,111.2 573.6,110.4 576.4,108.8 C579.2,107.2 581.2,105.0 583.6,102.4 C586.0,99.8 588.4,96.6 590.8,93.3 C593.2,90.1 595.7,86.2 598.1,83.0 C600.5,79.8 602.9,76.7 605.4,74.2 C607.9,71.6 610.4,69.3 612.8,67.9 C615.2,66.5 617.6,65.8 619.8,65.7 C622.0,65.6 623.8,66.3 625.8,67.3 C627.8,68.2 629.6,69.5 631.8,71.5 C634.0,73.5 636.8,76.4 639.2,79.0 C641.6,81.7 644.0,85.0 646.4,87.6 C648.8,90.2 651.3,92.5 653.7,94.7 C656.1,96.8 658.0,98.8 660.8,100.5 C663.6,102.2 667.4,103.8 670.6,105.1 C673.8,106.4 676.8,107.4 680.2,108.3 C683.6,109.1 689.3,109.8 691.1,110.1" fill="none" stroke="#cc45c0" stroke-width="0.65" stroke-linejoin="round"/>
<path d="M557.8,113.1 C559.3,112.9 563.7,112.5 566.8,111.7 C569.9,110.8 573.6,109.8 576.4,108.0 C579.2,106.1 581.2,103.5 583.6,100.5 C586.0,97.5 588.4,93.7 590.8,89.9 C593.2,86.1 595.7,81.6 598.1,77.9 C600.5,74.2 602.9,70.5 605.4,67.5 C607.9,64.6 610.4,61.9 612.8,60.3 C615.2,58.6 617.6,57.9 619.8,57.7 C622.0,57.6 623.8,58.4 625.8,59.5 C627.8,60.6 629.6,62.2 631.8,64.5 C634.0,66.8 636.8,70.1 639.2,73.3 C641.6,76.4 644.0,80.3 646.4,83.4 C648.8,86.5 651.3,89.2 653.7,91.8 C656.1,94.3 658.0,96.6 660.8,98.6 C663.6,100.6 667.4,102.4 670.6,103.9 C673.8,105.4 676.8,106.6 680.2,107.5 C683.6,108.5 689.3,109.3 691.1,109.6" fill="none" stroke="#8a4a30" stroke-width="1.15" stroke-linejoin="round"/>
<path d="M557.8,113.1 C559.3,112.9 563.7,112.5 566.8,111.7 C569.9,110.8 573.6,109.8 576.4,108.0 C579.2,106.1 581.2,103.5 583.6,100.5 C586.0,97.5 588.4,93.7 590.8,89.9 C593.2,86.1 595.7,81.6 598.1,77.9 C600.5,74.2 602.9,70.5 605.4,67.5 C607.9,64.6 610.4,61.9 612.8,60.3 C615.2,58.6 617.6,57.9 619.8,57.7 C622.0,57.6 623.8,58.4 625.8,59.5 C627.8,60.6 629.6,62.2 631.8,64.5 C634.0,66.8 636.8,70.1 639.2,73.3 C641.6,76.4 644.0,80.3 646.4,83.4 C648.8,86.5 651.3,89.2 653.7,91.8 C656.1,94.3 658.0,96.6 660.8,98.6 C663.6,100.6 667.4,102.4 670.6,103.9 C673.8,105.4 676.8,106.6 680.2,107.5 C683.6,108.5 689.3,109.3 691.1,109.6" fill="none" stroke="#6b2f22" stroke-width="0.65" stroke-linejoin="round"/>
<path d="M557.8,113.0 C559.3,112.7 563.7,112.3 566.8,111.3 C569.9,110.3 573.6,109.2 576.4,107.0 C579.2,104.9 581.2,101.9 583.6,98.4 C586.0,94.9 588.4,90.4 590.8,86.0 C593.2,81.7 595.7,76.4 598.1,72.1 C600.5,67.8 602.9,63.5 605.4,60.1 C607.9,56.6 610.4,53.5 612.8,51.6 C615.2,49.7 617.6,48.8 619.8,48.7 C622.0,48.5 623.8,49.4 625.8,50.7 C627.8,52.0 629.6,53.8 631.8,56.5 C634.0,59.1 636.8,63.1 639.2,66.8 C641.6,70.5 644.0,75.0 646.4,78.7 C648.8,82.3 651.3,85.6 653.7,88.5 C656.1,91.5 658.0,94.1 660.8,96.5 C663.6,98.8 667.4,100.9 670.6,102.6 C673.8,104.3 676.8,105.7 680.2,106.7 C683.6,107.8 689.3,108.7 691.1,109.1" fill="none" stroke="#3a55c8" stroke-width="1.15" stroke-linejoin="round"/>
<path d="M557.8,113.0 C559.3,112.7 563.7,112.3 566.8,111.3 C569.9,110.3 573.6,109.2 576.4,107.0 C579.2,104.9 581.2,101.9 583.6,98.4 C586.0,94.9 588.4,90.4 590.8,86.0 C593.2,81.7 595.7,76.4 598.1,72.1 C600.5,67.8 602.9,63.5 605.4,60.1 C607.9,56.6 610.4,53.5 612.8,51.6 C615.2,49.7 617.6,48.8 619.8,48.7 C622.0,48.5 623.8,49.4 625.8,50.7 C627.8,52.0 629.6,53.8 631.8,56.5 C634.0,59.1 636.8,63.1 639.2,66.8 C641.6,70.5 644.0,75.0 646.4,78.7 C648.8,82.3 651.3,85.6 653.7,88.5 C656.1,91.5 658.0,94.1 660.8,96.5 C663.6,98.8 667.4,100.9 670.6,102.6 C673.8,104.3 676.8,105.7 680.2,106.7 C683.6,107.8 689.3,108.7 691.1,109.1" fill="none" stroke="#24318f" stroke-width="0.65" stroke-linejoin="round"/>
<path d="M557.8,112.9 C559.3,112.6 563.7,112.1 566.8,111.0 C569.9,109.9 573.6,108.6 576.4,106.1 C579.2,103.7 581.2,100.3 583.6,96.3 C586.0,92.4 588.4,87.4 590.8,82.4 C593.2,77.5 595.7,71.5 598.1,66.6 C600.5,61.7 602.9,56.9 605.4,53.0 C607.9,49.1 610.4,45.6 612.8,43.4 C615.2,41.3 617.6,40.3 619.8,40.1 C622.0,39.9 623.8,41.0 625.8,42.5 C627.8,43.9 629.6,45.9 631.8,49.0 C634.0,52.0 636.8,56.4 639.2,60.6 C641.6,64.9 644.0,70.1 646.4,74.3 C648.8,78.4 651.3,82.2 653.7,85.6 C656.1,89.0 658.0,91.9 660.8,94.6 C663.6,97.2 667.4,99.6 670.6,101.5 C673.8,103.4 676.8,104.9 680.2,106.1 C683.6,107.3 689.3,108.2 691.1,108.7" fill="none" stroke="#d0405a" stroke-width="1.15" stroke-linejoin="round"/>
<path d="M557.8,112.9 C559.3,112.6 563.7,112.1 566.8,111.0 C569.9,109.9 573.6,108.6 576.4,106.1 C579.2,103.7 581.2,100.3 583.6,96.3 C586.0,92.4 588.4,87.4 590.8,82.4 C593.2,77.5 595.7,71.5 598.1,66.6 C600.5,61.7 602.9,56.9 605.4,53.0 C607.9,49.1 610.4,45.6 612.8,43.4 C615.2,41.3 617.6,40.3 619.8,40.1 C622.0,39.9 623.8,41.0 625.8,42.5 C627.8,43.9 629.6,45.9 631.8,49.0 C634.0,52.0 636.8,56.4 639.2,60.6 C641.6,64.9 644.0,70.1 646.4,74.3 C648.8,78.4 651.3,82.2 653.7,85.6 C656.1,89.0 658.0,91.9 660.8,94.6 C663.6,97.2 667.4,99.6 670.6,101.5 C673.8,103.4 676.8,104.9 680.2,106.1 C683.6,107.3 689.3,108.2 691.1,108.7" fill="none" stroke="#e23636" stroke-width="0.65" stroke-linejoin="round"/>
<path d="M557.8,112.8 C559.3,112.5 563.7,111.9 566.8,110.7 C569.9,109.4 573.6,108.0 576.4,105.3 C579.2,102.6 581.2,98.8 583.6,94.4 C586.0,90.1 588.4,84.5 590.8,79.0 C593.2,73.5 595.7,66.9 598.1,61.5 C600.5,56.1 602.9,50.7 605.4,46.4 C607.9,42.1 610.4,38.2 612.8,35.8 C615.2,33.4 617.6,32.3 619.8,32.1 C622.0,31.9 623.8,33.1 625.8,34.7 C627.8,36.3 629.6,38.5 631.8,41.9 C634.0,45.3 636.8,50.2 639.2,54.9 C641.6,59.6 644.0,65.6 646.4,70.2 C648.8,74.9 651.3,79.1 653.7,82.9 C656.1,86.7 658.0,90.0 660.8,92.9 C663.6,95.9 667.4,98.5 670.6,100.6 C673.8,102.7 676.8,104.2 680.2,105.5 C683.6,106.8 689.3,107.8 691.1,108.3" fill="none" stroke="#1d2a8a" stroke-width="1.15" stroke-linejoin="round"/>
<path d="M557.8,112.8 C559.3,112.5 563.7,111.9 566.8,110.7 C569.9,109.4 573.6,108.0 576.4,105.3 C579.2,102.6 581.2,98.8 583.6,94.4 C586.0,90.1 588.4,84.5 590.8,79.0 C593.2,73.5 595.7,66.9 598.1,61.5 C600.5,56.1 602.9,50.7 605.4,46.4 C607.9,42.1 610.4,38.2 612.8,35.8 C615.2,33.4 617.6,32.3 619.8,32.1 C622.0,31.9 623.8,33.1 625.8,34.7 C627.8,36.3 629.6,38.5 631.8,41.9 C634.0,45.3 636.8,50.2 639.2,54.9 C641.6,59.6 644.0,65.6 646.4,70.2 C648.8,74.9 651.3,79.1 653.7,82.9 C656.1,86.7 658.0,90.0 660.8,92.9 C663.6,95.9 667.4,98.5 670.6,100.6 C673.8,102.7 676.8,104.2 680.2,105.5 C683.6,106.8 689.3,107.8 691.1,108.3" fill="none" stroke="#2a3fd0" stroke-width="0.65" stroke-linejoin="round"/>
<path d="M557.8,112.7 C559.3,112.3 563.7,111.8 566.8,110.4 C569.9,109.0 573.6,107.4 576.4,104.4 C579.2,101.5 581.2,97.3 583.6,92.5 C586.0,87.6 588.4,81.5 590.8,75.5 C593.2,69.4 595.7,62.2 598.1,56.2 C600.5,50.2 602.9,44.3 605.4,39.6 C607.9,34.8 610.4,30.5 612.8,27.9 C615.2,25.2 617.6,24.0 619.8,23.8 C622.0,23.6 623.8,24.9 625.8,26.7 C627.8,28.5 629.6,30.9 631.8,34.6 C634.0,38.3 636.8,43.8 639.2,49.0 C641.6,54.3 644.0,60.9 646.4,66.1 C648.8,71.3 651.3,76.0 653.7,80.2 C656.1,84.4 658.0,88.1 660.8,91.3 C663.6,94.5 667.4,97.4 670.6,99.7 C673.8,102.0 676.8,103.6 680.2,105.0 C683.6,106.4 689.3,107.5 691.1,108.0" fill="none" stroke="#c9c63a" stroke-width="1.15" stroke-linejoin="round"/>
<path d="M557.8,112.7 C559.3,112.3 563.7,111.8 566.8,110.4 C569.9,109.0 573.6,107.4 576.4,104.4 C579.2,101.5 581.2,97.3 583.6,92.5 C586.0,87.6 588.4,81.5 590.8,75.5 C593.2,69.4 595.7,62.2 598.1,56.2 C600.5,50.2 602.9,44.3 605.4,39.6 C607.9,34.8 610.4,30.5 612.8,27.9 C615.2,25.2 617.6,24.0 619.8,23.8 C622.0,23.6 623.8,24.9 625.8,26.7 C627.8,28.5 629.6,30.9 631.8,34.6 C634.0,38.3 636.8,43.8 639.2,49.0 C641.6,54.3 644.0,60.9 646.4,66.1 C648.8,71.3 651.3,76.0 653.7,80.2 C656.1,84.4 658.0,88.1 660.8,91.3 C663.6,94.5 667.4,97.4 670.6,99.7 C673.8,102.0 676.8,103.6 680.2,105.0 C683.6,106.4 689.3,107.5 691.1,108.0" fill="none" stroke="#8f9a1e" stroke-width="0.65" stroke-linejoin="round"/>
<rect x="558" y="19.5" width="133.3" height="94.3" fill="none" stroke="#262626" stroke-width="1.2"/>
<line x1="555.80" y1="113.80" x2="558.00" y2="113.80" stroke="#333" stroke-width="1" />
<text x="553.50" y="119.70" font-size="10" text-anchor="end" font-weight="normal" fill="#1c1c1c" stroke="#1c1c1c" stroke-width="0.22" >0</text>
<line x1="555.80" y1="87.10" x2="558.00" y2="87.10" stroke="#333" stroke-width="1" />
<text x="553.50" y="90.60" font-size="10" text-anchor="end" font-weight="normal" fill="#1c1c1c" stroke="#1c1c1c" stroke-width="0.22" >1</text>
<line x1="555.80" y1="60.40" x2="558.00" y2="60.40" stroke="#333" stroke-width="1" />
<text x="553.50" y="63.90" font-size="10" text-anchor="end" font-weight="normal" fill="#1c1c1c" stroke="#1c1c1c" stroke-width="0.22" >2</text>
<line x1="555.80" y1="33.70" x2="558.00" y2="33.70" stroke="#333" stroke-width="1" />
<text x="553.50" y="37.20" font-size="10" text-anchor="end" font-weight="normal" fill="#1c1c1c" stroke="#1c1c1c" stroke-width="0.22" >3</text>
<text x="558.00" y="128.00" font-size="10" text-anchor="middle" font-weight="normal" fill="#1c1c1c" stroke="#1c1c1c" stroke-width="0.22" >650</text>
<text x="604.00" y="128.00" font-size="10" text-anchor="middle" font-weight="normal" fill="#1c1c1c" stroke="#1c1c1c" stroke-width="0.22" >700</text>
<text x="649.00" y="128.00" font-size="10" text-anchor="middle" font-weight="normal" fill="#1c1c1c" stroke="#1c1c1c" stroke-width="0.22" >750</text>
<text x="687.50" y="126.40" font-size="10" text-anchor="middle" font-weight="normal" fill="#1c1c1c" stroke="#1c1c1c" stroke-width="0.22" >800</text>
<line x1="604.00" y1="113.80" x2="604.00" y2="115.80" stroke="#333" stroke-width="1" />
<line x1="649.00" y1="113.80" x2="649.00" y2="115.80" stroke="#333" stroke-width="1" />
<text x="626.00" y="137.50" font-size="10.2" text-anchor="middle" font-weight="normal" fill="#1c1c1c" stroke="#1c1c1c" stroke-width="0.22" >Wavelength (nm)</text>
<text transform="translate(527,68.3) rotate(-90)" font-size="10.2" text-anchor="middle" fill="#1c1c1c" stroke="#1c1c1c" stroke-width="0.22">Flu. intensities</text>
<text transform="translate(540.3,69.5) rotate(-90)" font-size="9.8" text-anchor="middle" fill="#1c1c1c" stroke="#1c1c1c" stroke-width="0.22">( x 10<tspan font-size="6" dy="-3.5">6</tspan><tspan dy="3.5"> cps)</tspan></text>
<text x="649.70" y="29.80" font-size="10" text-anchor="start" font-weight="normal" fill="#151515" stroke="#151515" stroke-width="0.22" >10 µM</text>
<text x="663.60" y="43.00" font-size="10" text-anchor="start" font-weight="normal" fill="#151515" stroke="#151515" stroke-width="0.22" >Na<tspan font-size="6.5" dy="2">2</tspan><tspan dy="-2">S</tspan><tspan font-size="6.5" dy="2">4</tspan></text>
<text x="654.30" y="56.50" font-size="10" text-anchor="start" font-weight="normal" fill="#151515" stroke="#151515" stroke-width="0.22" >0 µM</text>
<line x1="657.00" y1="47.20" x2="657.00" y2="38.00" stroke="#111" stroke-width="1.2" />
<polygon points="657,33.4 654.7,39.4 659.3,39.4" fill="#111"/>
</g>
<g id="panel-d" filter="url(#soft)">
<text x="510.80" y="151.80" font-size="12" text-anchor="start" font-weight="bold" fill="#111" >d</text>
<rect x="557" y="150.4" width="134" height="94.6" fill="none" stroke="#262626" stroke-width="1.2"/>
<path d="M562.2,181 L574.7,168.8 L586.5,161 L598.6,167.8 L611,179.6 L623,186.4 L635.4,193 L647.4,214 L660,213.2 L672,212 L684.4,210" fill="none" stroke="#4fc3e8" stroke-width="0.7"/>
<rect x="560.1" y="178.9" width="4.2" height="4.2" rx="0.8" fill="#1fa6e0"/>
<rect x="572.6" y="166.7" width="4.2" height="4.2" rx="0.8" fill="#1fa6e0"/>
<rect x="584.4" y="158.9" width="4.2" height="4.2" rx="0.8" fill="#1fa6e0"/>
<rect x="596.5" y="165.7" width="4.2" height="4.2" rx="0.8" fill="#1fa6e0"/>
<rect x="608.9" y="177.5" width="4.2" height="4.2" rx="0.8" fill="#1fa6e0"/>
<rect x="620.9" y="184.3" width="4.2" height="4.2" rx="0.8" fill="#1fa6e0"/>
<rect x="633.3" y="190.9" width="4.2" height="4.2" rx="0.8" fill="#1fa6e0"/>
<rect x="645.3" y="211.9" width="4.2" height="4.2" rx="0.8" fill="#1fa6e0"/>
<rect x="657.9" y="211.1" width="4.2" height="4.2" rx="0.8" fill="#1fa6e0"/>
<rect x="669.9" y="209.9" width="4.2" height="4.2" rx="0.8" fill="#1fa6e0"/>
<rect x="682.3" y="207.9" width="4.2" height="4.2" rx="0.8" fill="#1fa6e0"/>
<path d="M562.2,166 L574.7,165 L586.5,157 L598.6,159 L611,165 L623,176 L635.4,176.6 L647.4,195.4 L660,196.6 L672,196.4 L684.4,196" fill="none" stroke="#d0463c" stroke-width="0.7"/>
<rect x="560.1" y="163.9" width="4.2" height="4.2" rx="0.8" fill="#a3111f"/>
<rect x="572.6" y="162.9" width="4.2" height="4.2" rx="0.8" fill="#a3111f"/>
<rect x="584.4" y="154.9" width="4.2" height="4.2" rx="0.8" fill="#a3111f"/>
<rect x="596.5" y="156.9" width="4.2" height="4.2" rx="0.8" fill="#a3111f"/>
<rect x="608.9" y="162.9" width="4.2" height="4.2" rx="0.8" fill="#a3111f"/>
<rect x="620.9" y="173.9" width="4.2" height="4.2" rx="0.8" fill="#a3111f"/>
<rect x="633.3" y="174.5" width="4.2" height="4.2" rx="0.8" fill="#a3111f"/>
<rect x="645.3" y="193.3" width="4.2" height="4.2" rx="0.8" fill="#a3111f"/>
<rect x="657.9" y="194.5" width="4.2" height="4.2" rx="0.8" fill="#a3111f"/>
<rect x="669.9" y="194.3" width="4.2" height="4.2" rx="0.8" fill="#a3111f"/>
<rect x="682.3" y="193.9" width="4.2" height="4.2" rx="0.8" fill="#a3111f"/>
<rect x="644.9" y="157.1" width="3.6" height="3.6" rx="0.8" fill="#1fa6b8"/>
<rect x="644.9" y="167.7" width="4" height="4" rx="0.8" fill="#a3111f"/>
<text x="651.00" y="162.30" font-size="10" text-anchor="start" font-weight="normal" fill="#151515" stroke="#151515" stroke-width="0.22" >Group 1</text>
<text x="651.00" y="173.20" font-size="10" text-anchor="start" font-weight="normal" fill="#151515" stroke="#151515" stroke-width="0.22" >Group 2</text>
<text x="555.00" y="153.60" font-size="10" text-anchor="end" font-weight="normal" fill="#1c1c1c" stroke="#1c1c1c" stroke-width="0.22" >1</text>
<text x="555.00" y="202.00" font-size="10" text-anchor="end" font-weight="normal" fill="#1c1c1c" stroke="#1c1c1c" stroke-width="0.22" >0.5</text>
<text x="554.50" y="250.00" font-size="10" text-anchor="end" font-weight="normal" fill="#1c1c1c" stroke="#1c1c1c" stroke-width="0.22" >0</text>
<line x1="555.00" y1="198.40" x2="557.00" y2="198.40" stroke="#333" stroke-width="1" />
<text x="562.80" y="254.60" font-size="10" text-anchor="middle" font-weight="normal" fill="#1c1c1c" stroke="#1c1c1c" stroke-width="0.22" >0</text>
<line x1="562.20" y1="245.00" x2="562.20" y2="246.80" stroke="#333" stroke-width="0.8" />
<text x="575.30" y="254.60" font-size="10" text-anchor="middle" font-weight="normal" fill="#1c1c1c" stroke="#1c1c1c" stroke-width="0.22" >5</text>
<line x1="574.70" y1="245.00" x2="574.70" y2="246.80" stroke="#333" stroke-width="0.8" />
<text x="587.10" y="254.60" font-size="10" text-anchor="middle" font-weight="normal" fill="#1c1c1c" stroke="#1c1c1c" stroke-width="0.22" >10</text>
<line x1="586.50" y1="245.00" x2="586.50" y2="246.80" stroke="#333" stroke-width="0.8" />
<text x="599.20" y="254.60" font-size="10" text-anchor="middle" font-weight="normal" fill="#1c1c1c" stroke="#1c1c1c" stroke-width="0.22" >15</text>
<line x1="598.60" y1="245.00" x2="598.60" y2="246.80" stroke="#333" stroke-width="0.8" />
<text x="611.60" y="254.60" font-size="10" text-anchor="middle" font-weight="normal" fill="#1c1c1c" stroke="#1c1c1c" stroke-width="0.22" >20</text>
<line x1="611.00" y1="245.00" x2="611.00" y2="246.80" stroke="#333" stroke-width="0.8" />
<text x="623.60" y="254.60" font-size="10" text-anchor="middle" font-weight="normal" fill="#1c1c1c" stroke="#1c1c1c" stroke-width="0.22" >25</text>
<line x1="623.00" y1="245.00" x2="623.00" y2="246.80" stroke="#333" stroke-width="0.8" />
<text x="636.00" y="254.60" font-size="10" text-anchor="middle" font-weight="normal" fill="#1c1c1c" stroke="#1c1c1c" stroke-width="0.22" >30</text>
<line x1="635.40" y1="245.00" x2="635.40" y2="246.80" stroke="#333" stroke-width="0.8" />
<text x="648.00" y="254.60" font-size="10" text-anchor="middle" font-weight="normal" fill="#1c1c1c" stroke="#1c1c1c" stroke-width="0.22" >5</text>
<line x1="647.40" y1="245.00" x2="647.40" y2="246.80" stroke="#333" stroke-width="0.8" />
<text x="660.60" y="254.60" font-size="10" text-anchor="middle" font-weight="normal" fill="#1c1c1c" stroke="#1c1c1c" stroke-width="0.22" >30</text>
<line x1="660.00" y1="245.00" x2="660.00" y2="246.80" stroke="#333" stroke-width="0.8" />
<text x="672.60" y="254.60" font-size="10" text-anchor="middle" font-weight="normal" fill="#1c1c1c" stroke="#1c1c1c" stroke-width="0.22" >60</text>
<line x1="672.00" y1="245.00" x2="672.00" y2="246.80" stroke="#333" stroke-width="0.8" />
<text x="686.00" y="254.60" font-size="10" text-anchor="middle" font-weight="normal" fill="#1c1c1c" stroke="#1c1c1c" stroke-width="0.22" >120</text>
<line x1="684.40" y1="245.00" x2="684.40" y2="246.80" stroke="#333" stroke-width="0.8" />
<text x="624.50" y="267.40" font-size="10" text-anchor="middle" font-weight="normal" fill="#1c1c1c" stroke="#1c1c1c" stroke-width="0.22" >Time (min)</text>
<text transform="translate(527,199.5) rotate(-90)" font-size="10.2" text-anchor="middle" fill="#1c1c1c" stroke="#1c1c1c" stroke-width="0.22">Normalized</text>
<text transform="translate(539.5,199.5) rotate(-90)" font-size="10.2" text-anchor="middle" fill="#1c1c1c" stroke="#1c1c1c" stroke-width="0.22">Flu. intensities</text>
</g>
<g id="panel-c">
<g filter="url(#soft)">
<text x="3.40" y="152.20" font-size="12" text-anchor="start" font-weight="bold" fill="#111" >c</text>
<text x="64.30" y="163.80" font-size="10" text-anchor="middle" font-weight="normal" fill="#1c1c1c" stroke="#1c1c1c" stroke-width="0.22" >Group A</text>
<text x="140.40" y="163.80" font-size="10" text-anchor="middle" font-weight="normal" fill="#1c1c1c" stroke="#1c1c1c" stroke-width="0.22" >Group B</text>
<text x="216.50" y="163.80" font-size="10" text-anchor="middle" font-weight="normal" fill="#1c1c1c" stroke="#1c1c1c" stroke-width="0.22" >Group C</text>
<text x="317.70" y="163.80" font-size="10" text-anchor="middle" font-weight="normal" fill="#1c1c1c" stroke="#1c1c1c" stroke-width="0.22" >Group A</text>
<text x="394.50" y="163.80" font-size="10" text-anchor="middle" font-weight="normal" fill="#1c1c1c" stroke="#1c1c1c" stroke-width="0.22" >Group B</text>
<text x="470.60" y="163.80" font-size="10" text-anchor="middle" font-weight="normal" fill="#1c1c1c" stroke="#1c1c1c" stroke-width="0.22" >Group C</text>
<text transform="translate(16.55,207.5) rotate(-90)" font-size="10" text-anchor="middle" fill="#1c1c1c" stroke="#1c1c1c" stroke-width="0.22">SH-sy5y</text>
<text transform="translate(274.6,208) rotate(-90)" font-size="10" text-anchor="middle" fill="#1c1c1c" stroke="#1c1c1c" stroke-width="0.22">A549</text>
<text x="358.00" y="269.40" font-size="10" text-anchor="middle" font-weight="normal" fill="#1c1c1c" stroke="#1c1c1c" stroke-width="0.22" >time (min)</text>
</g>
<rect x="24.8" y="169.3" width="232.4" height="76.9" fill="#000"/><clipPath id="cp1"><rect x="0" y="0" width="76.6" height="76"/></clipPath><g transform="translate(25,170)" clip-path="url(#cp1)"><g transform="scale(1.2767,1.2667)"><rect x="-1" y="-1" width="63" height="63" fill="#000"/><ellipse cx="21" cy="24" rx="0.8" ry="0.8" fill="#401018" opacity="0.6" filter="url(#b1)"/></g><text x="74.39999999999999" y="73.8" font-size="2.1" font-weight="bold" fill="#d8d8d8" text-anchor="end" filter="url(#b0)">10µm</text></g><clipPath id="cp2"><rect x="0" y="0" width="76.6" height="76"/></clipPath><g transform="translate(102.4,170)" clip-path="url(#cp2)"><g transform="scale(1.2767,1.2667)"><rect x="-1" y="-1" width="63" height="63" fill="#000"/><ellipse cx="27.10182767624021" cy="15.947368421052621" rx="1.466318537859008" ry="1.17" fill="#d01030" opacity="0.92" filter="url(#b1)"/><ellipse cx="30.39164490861618" cy="20.8421052631579" rx="0.733159268929504" ry="1.6010526315789475" fill="#d01030" opacity="0.6900000000000001" filter="url(#b1)" transform="rotate(20 30.39164490861618 20.8421052631579)"/><ellipse cx="25.300261096605734" cy="43.5" rx="0.9775456919060053" ry="0.8005263157894738" fill="#d01030" opacity="0.552" filter="url(#b1)"/><ellipse cx="29.99999999999999" cy="45.0" rx="0.91644908616188" ry="0.7389473684210526" fill="#d01030" opacity="0.782" filter="url(#b1)"/><ellipse cx="12.219321148825061" cy="29.210526315789476" rx="0.6109660574412533" ry="0.6157894736842106" fill="#d01030" opacity="0.23" filter="url(#b1)"/><ellipse cx="43.5509138381201" cy="16.578947368421055" rx="1.2219321148825066" ry="0.6157894736842106" fill="#d01030" opacity="0.138" filter="url(#b1)"/></g><text x="74.39999999999999" y="73.8" font-size="2.1" font-weight="bold" fill="#d8d8d8" text-anchor="end" filter="url(#b0)">10µm</text></g><clipPath id="cp3"><rect x="0" y="0" width="77.5" height="76"/></clipPath><g transform="translate(179.7,170)" clip-path="url(#cp3)"><g transform="scale(1.2917,1.2667)"><rect x="-1" y="-1" width="63" height="63" fill="#000"/><ellipse cx="16.370757180156662" cy="1.2631578947368376" rx="1.9550913838120105" ry="0.9852631578947368" fill="#d01030" opacity="0.92" filter="url(#b1)"/><ellipse cx="13.629242819843347" cy="5.605263157894733" rx="1.2219321148825066" ry="0.9852631578947368" fill="#d01030" opacity="0.92" filter="url(#b1)"/><ellipse cx="19.190600522193215" cy="5.999999999999996" rx="1.099738903394256" ry="0.9236842105263158" fill="#d01030" opacity="0.874" filter="url(#b1)"/><ellipse cx="25.300261096605755" cy="5.605263157894733" rx="0.733159268929504" ry="1.231578947368421" fill="#d01030" opacity="0.7360000000000001" filter="url(#b1)"/><ellipse cx="7.049608355091384" cy="15.55263157894736" rx="1.466318537859008" ry="1.17" fill="#d01030" opacity="0.92" filter="url(#b1)"/><ellipse cx="29.76501305483029" cy="26.368421052631586" rx="0.91644908616188" ry="1.108421052631579" fill="#d01030" opacity="0.782" filter="url(#b1)"/><ellipse cx="32.114882506527415" cy="35.44736842105264" rx="0.8553524804177547" ry="1.3547368421052632" fill="#d01030" opacity="0.7360000000000001" filter="url(#b1)"/><ellipse cx="38.69451697127938" cy="47.13157894736841" rx="1.099738903394256" ry="1.108421052631579" fill="#d01030" opacity="0.7360000000000001" filter="url(#b1)"/><ellipse cx="4.699738903394256" cy="49.815789473684205" rx="0.733159268929504" ry="1.3547368421052632" fill="#d01030" opacity="0.46" filter="url(#b1)"/><ellipse cx="26.08355091383813" cy="44.21052631578947" rx="0.6109660574412533" ry="0.9236842105263158" fill="#d01030" opacity="0.276" filter="url(#b1)"/><ellipse cx="21.383812010443876" cy="20.526315789473685" rx="0.6109660574412533" ry="0.7389473684210526" fill="#d01030" opacity="0.23" filter="url(#b1)"/></g><text x="75.3" y="73.8" font-size="2.1" font-weight="bold" fill="#d8d8d8" text-anchor="end" filter="url(#b0)">10µm</text></g><rect x="101.6" y="170" width="0.9" height="76" fill="#9a9a9a"/><rect x="178.8" y="170" width="0.9" height="76" fill="#9a9a9a"/><rect x="278.3" y="169.3" width="228.4" height="76.9" fill="#000"/><clipPath id="cp4"><rect x="0" y="0" width="75.6" height="76"/></clipPath><g transform="translate(278.5,170)" clip-path="url(#cp4)"><g transform="scale(1.2600,1.2667)"><rect x="-1" y="-1" width="63" height="63" fill="#000"/></g><text x="73.39999999999999" y="73.8" font-size="2.1" font-weight="bold" fill="#d8d8d8" text-anchor="end" filter="url(#b0)">10µm</text></g><clipPath id="cp5"><rect x="0" y="0" width="75.6" height="76"/></clipPath><g transform="translate(354.1,170)" clip-path="url(#cp5)"><g transform="scale(1.2600,1.2667)"><rect x="-1" y="-1" width="63" height="63" fill="#000"/><path d="M13.5,44.1C13.0,43.8 11.4,43.0 10.5,42.3C9.7,41.5 8.9,40.5 8.4,39.4C7.9,38.4 7.5,37.2 7.4,36.0C7.3,34.8 7.4,33.6 7.7,32.5C8.0,31.3 8.6,30.2 9.3,29.3C9.9,28.3 10.9,27.5 11.8,26.9C12.8,26.3 14.5,25.8 15.1,25.6" fill="none" stroke="#8a0c1e" stroke-width="0.9" stroke-linecap="round" opacity="0.75" filter="url(#b1)"/><path d="M15.9,25.5C16.3,25.5 17.6,25.5 18.5,25.6C19.3,25.8 20.2,26.1 21.0,26.5C21.7,27.0 22.5,27.5 23.1,28.1C23.7,28.7 24.5,29.9 24.7,30.3" fill="none" stroke="#8a0c1e" stroke-width="0.8" stroke-linecap="round" opacity="0.4" filter="url(#b1)"/><path d="M25.4,31.8C25.5,32.3 26.0,34.0 26.0,35.1C26.0,36.1 25.8,37.3 25.4,38.3C25.0,39.4 24.5,40.4 23.8,41.2C23.1,42.1 21.7,43.0 21.3,43.4" fill="none" stroke="#8a0c1e" stroke-width="0.8" stroke-linecap="round" opacity="0.5" filter="url(#b1)"/><path d="M21.2,42.5C20.8,42.7 19.6,43.2 18.7,43.4C17.9,43.6 17.0,43.7 16.1,43.6C15.3,43.6 14.0,43.2 13.6,43.1" fill="none" stroke="#8a0c1e" stroke-width="0.9" stroke-linecap="round" opacity="0.7" filter="url(#b1)"/><ellipse cx="7.666666666666668" cy="35.55263157894737" rx="0.8" ry="1.4" fill="#e01030" opacity="0.8" filter="url(#b1)"/><ellipse cx="17.666666666666668" cy="43.55263157894737" rx="1.2" ry="0.8" fill="#e01030" opacity="0.7" filter="url(#b1)"/><ellipse cx="11.666666666666668" cy="26.85263157894737" rx="2.0" ry="0.7" fill="#d01030" opacity="0.5" filter="url(#b1)" transform="rotate(-25 11.666666666666668 26.85263157894737)"/><ellipse cx="25.666666666666668" cy="36.05263157894737" rx="0.7" ry="1.5" fill="#d01030" opacity="0.5" filter="url(#b1)"/><ellipse cx="51.1904761904762" cy="25.657894736842106" rx="1.8" ry="0.8" fill="#d01030" opacity="0.55" filter="url(#b1)" transform="rotate(20 51.1904761904762 25.657894736842106)"/><path d="M48.7,13.4C48.5,14.4 47.5,17.5 47.7,19.4C47.9,21.2 49.4,23.5 49.7,24.4" fill="none" stroke="#700818" stroke-width="0.8" stroke-linecap="round" opacity="0.3" filter="url(#b1)"/></g><text x="73.39999999999999" y="73.8" font-size="2.1" font-weight="bold" fill="#d8d8d8" text-anchor="end" filter="url(#b0)">10µm</text></g><clipPath id="cp6"><rect x="0" y="0" width="75.6" height="76"/></clipPath><g transform="translate(431,170)" clip-path="url(#cp6)"><g transform="scale(1.2600,1.2667)"><rect x="-1" y="-1" width="63" height="63" fill="#000"/><path d="M16.0,47.3C15.8,47.7 15.7,49.1 15.2,49.8C14.7,50.5 14.0,51.3 13.1,51.7C12.3,52.2 11.2,52.5 10.2,52.7C9.1,52.8 8.0,52.6 7.0,52.3C6.1,52.0 5.1,51.5 4.4,50.9C3.7,50.2 3.2,49.4 3.0,48.6C2.7,47.8 2.7,46.8 3.0,46.0C3.2,45.2 3.7,44.3 4.4,43.7C5.1,43.1 6.1,42.5 7.0,42.2C8.0,41.9 9.1,41.8 10.2,41.9C11.2,42.0 12.3,42.4 13.1,42.8C14.0,43.3 14.7,44.0 15.2,44.8C15.7,45.5 16.0,46.5 16.0,47.3C16.0,48.1 15.3,49.4 15.2,49.8" fill="none" stroke="#c80e2a" stroke-width="0.9" stroke-linecap="round" opacity="0.85" filter="url(#b1)"/><path d="M10.5,52.8C10.0,52.8 8.3,52.9 7.3,52.6C6.3,52.3 5.2,51.8 4.5,51.1C3.8,50.5 3.2,49.6 2.9,48.7C2.6,47.9 2.6,46.9 2.8,46.0C3.1,45.1 3.7,44.2 4.4,43.6C5.1,42.9 6.6,42.3 7.1,42.0" fill="none" stroke="#f81838" stroke-width="1.6" stroke-linecap="round" opacity="1" filter="url(#b1)"/><path d="M15.4,45.8C15.9,46.0 17.5,46.5 18.4,46.8C19.2,47.0 20.0,47.2 20.4,47.3" fill="none" stroke="#d01030" stroke-width="1.0" stroke-linecap="round" opacity="0.8" filter="url(#b1)"/><ellipse cx="7.365079365079374" cy="56.28947368421053" rx="0.8" ry="0.6" fill="#d01030" opacity="0.4" filter="url(#b1)"/><ellipse cx="20.634920634920636" cy="15.55263157894736" rx="0.5555555555555556" ry="1.1842105263157894" fill="#d01030" opacity="0.5" filter="url(#b1)"/><ellipse cx="24.603174603174605" cy="25.50000000000001" rx="0.5555555555555556" ry="0.9473684210526315" fill="#d01030" opacity="0.4" filter="url(#b1)"/><ellipse cx="33.65079365079364" cy="16.500000000000004" rx="0.5555555555555556" ry="1.4210526315789473" fill="#d01030" opacity="0.3" filter="url(#b1)"/><ellipse cx="37.301587301587304" cy="35.44736842105264" rx="0.5555555555555556" ry="0.9473684210526315" fill="#d01030" opacity="0.45" filter="url(#b1)"/><ellipse cx="30.079365079365065" cy="45.31578947368422" rx="0.634920634920635" ry="0.9473684210526315" fill="#d01030" opacity="0.4" filter="url(#b1)"/><ellipse cx="26.984126984126988" cy="52.10526315789474" rx="0.5555555555555556" ry="0.7105263157894737" fill="#d01030" opacity="0.25" filter="url(#b1)"/><path d="M20.6,15.0C20.9,16.2 21.3,19.6 22.2,22.1C23.1,24.6 25.3,26.8 26.2,30.0C27.1,33.2 27.5,39.2 27.8,41.1" fill="none" stroke="#700818" stroke-width="0.8" stroke-linecap="round" opacity="0.28" filter="url(#b1)"/><path d="M33.3,14.2C33.7,15.8 35.1,20.3 35.7,23.7C36.4,27.1 37.0,32.9 37.3,34.7" fill="none" stroke="#700818" stroke-width="0.8" stroke-linecap="round" opacity="0.25" filter="url(#b1)"/></g><text x="73.39999999999999" y="73.8" font-size="2.1" font-weight="bold" fill="#d8d8d8" text-anchor="end" filter="url(#b0)">10µm</text></g><rect x="353.1" y="170" width="0.9" height="76" fill="#9a9a9a"/><rect x="430.1" y="170" width="0.9" height="76" fill="#9a9a9a"/>
</g>
<g id="panel-e">
<g filter="url(#soft)">
<text x="3.00" y="272.20" font-size="12" text-anchor="start" font-weight="bold" fill="#111" >e</text>
<line x1="25.00" y1="276.30" x2="696.00" y2="276.30" stroke="#777" stroke-width="1" />
<line x1="25.00" y1="420.60" x2="445.30" y2="420.60" stroke="#777" stroke-width="1" />
<line x1="452.50" y1="420.60" x2="696.50" y2="420.60" stroke="#777" stroke-width="1" />
<text x="53.10" y="287.20" font-size="10.2" text-anchor="middle" font-weight="normal" fill="#1c1c1c" stroke="#1c1c1c" stroke-width="0.22" >0</text>
<text x="113.00" y="287.20" font-size="10.2" text-anchor="middle" font-weight="normal" fill="#1c1c1c" stroke="#1c1c1c" stroke-width="0.22" >5</text>
<text x="172.90" y="287.20" font-size="10.2" text-anchor="middle" font-weight="normal" fill="#1c1c1c" stroke="#1c1c1c" stroke-width="0.22" >10</text>
<text x="232.80" y="287.20" font-size="10.2" text-anchor="middle" font-weight="normal" fill="#1c1c1c" stroke="#1c1c1c" stroke-width="0.22" >15</text>
<text x="292.70" y="287.20" font-size="10.2" text-anchor="middle" font-weight="normal" fill="#1c1c1c" stroke="#1c1c1c" stroke-width="0.22" >20</text>
<text x="352.60" y="287.20" font-size="10.2" text-anchor="middle" font-weight="normal" fill="#1c1c1c" stroke="#1c1c1c" stroke-width="0.22" >25</text>
<text x="412.50" y="287.20" font-size="10.2" text-anchor="middle" font-weight="normal" fill="#1c1c1c" stroke="#1c1c1c" stroke-width="0.22" >30</text>
<text x="479.00" y="287.20" font-size="10.2" text-anchor="middle" font-weight="normal" fill="#1c1c1c" stroke="#1c1c1c" stroke-width="0.22" >5</text>
<text x="540.00" y="287.20" font-size="10.2" text-anchor="middle" font-weight="normal" fill="#1c1c1c" stroke="#1c1c1c" stroke-width="0.22" >30</text>
<text x="601.50" y="287.20" font-size="10.2" text-anchor="middle" font-weight="normal" fill="#1c1c1c" stroke="#1c1c1c" stroke-width="0.22" >60</text>
<text x="663.50" y="287.20" font-size="10.2" text-anchor="middle" font-weight="normal" fill="#1c1c1c" stroke="#1c1c1c" stroke-width="0.22" >120</text>
<text x="235.00" y="431.00" font-size="10" text-anchor="middle" font-weight="normal" fill="#1c1c1c" stroke="#1c1c1c" stroke-width="0.22" >Ischemia</text>
<text x="571.00" y="431.00" font-size="10" text-anchor="middle" font-weight="normal" fill="#1c1c1c" stroke="#1c1c1c" stroke-width="0.22" >Reperfusion</text>
<text transform="translate(16.9,320) rotate(-90)" font-size="10.5" text-anchor="middle" fill="#1c1c1c" stroke="#1c1c1c" stroke-width="0.22">G1 Mito-SH</text>
<text transform="translate(16.9,388.6) rotate(-90)" font-size="10.5" text-anchor="middle" fill="#1c1c1c" stroke="#1c1c1c" stroke-width="0.22">G2 Mito-SH</text>
</g>
<clipPath id="cp7"><rect x="0" y="0" width="59.2" height="58.8"/></clipPath><g transform="translate(23.7,293.5)" clip-path="url(#cp7)"><g transform="scale(0.9867,0.9800)" filter="url(#tex)"><rect x="-1" y="-1" width="63" height="63" fill="#000010"/><path d="M4,62L4,12L15,6L35,7L45,14L50,26L54,62Z" fill="#000838" opacity="0.95" filter="url(#b3)"/><ellipse cx="30" cy="62" rx="30" ry="12" fill="#000" opacity="0.85" filter="url(#b3)"/><ellipse cx="20" cy="36" rx="11" ry="12" fill="#061090" opacity="0.45" filter="url(#b3)"/><path d="M3.0,5.0C5.8,4.7 14.5,3.2 20.0,3.0C25.5,2.8 31.7,2.7 36.0,4.0C40.3,5.3 43.3,7.8 46.0,11.0C48.7,14.2 50.5,18.7 52.0,23.0C53.5,27.3 54.2,32.2 55.0,37.0C55.8,41.8 56.7,49.5 57.0,52.0" fill="none" stroke="#0c1ef4" stroke-width="4" stroke-linecap="round" opacity="0.95" filter="url(#b1)"/><path d="M44.0,9.0C45.2,11.0 49.2,16.5 51.0,21.0C52.8,25.5 53.9,33.5 54.5,36.0" fill="none" stroke="#2040ff" stroke-width="2" stroke-linecap="round" opacity="0.8" filter="url(#b1)"/><ellipse cx="8" cy="6" rx="9" ry="4.5" fill="#0c1ef4" opacity="0.85" filter="url(#b2)"/><path d="M1.0,0.0C1.0,10.0 1.0,50.0 1.0,60.0" fill="none" stroke="#0a20d0" stroke-width="3" stroke-linecap="round" opacity="0.85" filter="url(#b1)"/><path d="M0.8,2.0C0.8,5.3 0.8,18.7 0.8,22.0" fill="none" stroke="#28b0e0" stroke-width="2.2" stroke-linecap="round" opacity="0.9" filter="url(#b1)"/><ellipse cx="21" cy="28" rx="3" ry="4" fill="#0c1ef4" opacity="0.9" filter="url(#b1)"/><path d="M13.0,24.0C12.7,25.5 11.5,30.0 11.0,33.0C10.5,36.0 10.2,40.5 10.0,42.0" fill="none" stroke="#0814b8" stroke-width="3" stroke-linecap="round" opacity="0.8" filter="url(#b2)"/><path d="M25.0,33.0C25.3,35.0 26.7,43.0 27.0,45.0" fill="none" stroke="#0814b8" stroke-width="3" stroke-linecap="round" opacity="0.7" filter="url(#b2)"/><path d="M30.0,30.0C30.5,32.0 32.5,40.0 33.0,42.0" fill="none" stroke="#0814b8" stroke-width="2.5" stroke-linecap="round" opacity="0.6" filter="url(#b2)"/></g><text x="57.0" y="56.599999999999994" font-size="2.1" font-weight="bold" fill="#d8d8d8" text-anchor="end" filter="url(#b0)">100µm</text></g><clipPath id="cp8"><rect x="0" y="0" width="59.2" height="58.8"/></clipPath><g transform="translate(84.3,293.5)" clip-path="url(#cp8)"><g transform="scale(0.9867,0.9800)" filter="url(#tex)"><rect x="-1" y="-1" width="63" height="63" fill="#000010"/><path d="M0,0L22,0L10,13L4,27L0,38Z" fill="#000850" opacity="1" filter="url(#b1)"/><path d="M25.0,2.0C28.5,2.0 42.5,2.0 46.0,2.0" fill="none" stroke="#0814b8" stroke-width="4" stroke-linecap="round" opacity="1" filter="url(#b1)"/><path d="M36.0,3.0C37.7,3.8 43.7,5.3 46.0,8.0C48.3,10.7 49.1,15.0 50.0,19.0C50.9,23.0 51.2,29.8 51.5,32.0" fill="none" stroke="#0a18c0" stroke-width="4" stroke-linecap="round" opacity="0.9" filter="url(#b1)"/><path d="M46,3L60,3L60,27L53,27L50,15Z" fill="#0a18c0" opacity="0.9" filter="url(#b2)"/><path d="M48,34L60,33L60,60L47,60Z" fill="#000870" opacity="0.85" filter="url(#b2)"/><path d="M4.5,60.0C4.7,57.8 4.8,51.5 5.5,47.0C6.2,42.5 7.6,37.2 9.0,33.0C10.4,28.8 12.0,25.5 14.0,22.0C16.0,18.5 18.5,14.7 21.0,12.0C23.5,9.3 26.2,7.5 29.0,6.0C31.8,4.5 36.5,3.5 38.0,3.0" fill="none" stroke="#0c1ef4" stroke-width="5.5" stroke-linecap="round" opacity="0.97" filter="url(#b1)"/><path d="M0.8,58.0C1.0,55.8 1.4,49.5 2.2,45.0C3.0,40.5 4.1,35.3 5.5,31.0C6.9,26.7 9.7,21.0 10.5,19.0" fill="none" stroke="#48e858" stroke-width="2.2" stroke-linecap="round" opacity="0.95" filter="url(#b1)"/><path d="M10.5,19.0C11.2,17.7 13.2,13.4 15.0,11.0C16.8,8.6 20.0,5.6 21.0,4.5" fill="none" stroke="#28b0e0" stroke-width="1.8" stroke-linecap="round" opacity="0.9" filter="url(#b1)"/><path d="M11.5,60.0C10.2,57.8 11.4,51.2 12.0,47.0C12.6,42.8 13.8,38.3 15.0,35.0C16.2,31.7 18.3,27.8 19.5,27.0C20.7,26.2 21.9,27.0 22.0,30.0C22.1,33.0 20.4,40.0 20.0,45.0C19.6,50.0 21.1,57.5 19.7,60.0C18.3,62.5 12.8,62.2 11.5,60.0Z" fill="#0c1ef4" opacity="0.95" filter="url(#b1)"/><path d="M24.5,60.0C22.9,57.5 24.2,49.7 25.0,45.0C25.8,40.3 27.5,35.7 29.0,32.0C30.5,28.3 32.7,23.8 34.0,23.0C35.3,22.2 36.8,23.8 37.0,27.0C37.2,30.2 35.4,36.5 35.0,42.0C34.6,47.5 36.2,57.0 34.5,60.0C32.8,63.0 26.1,62.5 24.5,60.0Z" fill="#1024f8" opacity="0.95" filter="url(#b1)"/><path d="M38.0,60.0C37.0,57.0 39.0,47.0 40.0,42.0C41.0,37.0 42.8,31.3 44.0,30.0C45.2,28.7 46.7,29.0 47.0,34.0C47.3,39.0 47.5,55.7 46.0,60.0C44.5,64.3 39.0,63.0 38.0,60.0Z" fill="#0814a0" opacity="0.8" filter="url(#b2)"/><ellipse cx="32" cy="17" rx="7" ry="4" fill="#050c70" opacity="0.5" filter="url(#b2)"/></g><text x="57.0" y="56.599999999999994" font-size="2.1" font-weight="bold" fill="#d8d8d8" text-anchor="end" filter="url(#b0)">100µm</text></g><clipPath id="cp9"><rect x="0" y="0" width="59.2" height="58.8"/></clipPath><g transform="translate(144.8,293.5)" clip-path="url(#cp9)"><g transform="scale(0.9867,0.9800)" filter="url(#tex)"><rect x="-1" y="-1" width="63" height="63" fill="#0c1ef4"/><path d="M29,0L60,0L60,60L52,60L49,43L44,26L36,10Z" fill="#000" opacity="0.97" filter="url(#b1)"/><path d="M0,0L13,0L9,7L4,12L3.5,60L0,60Z" fill="#48e858" opacity="0.95" filter="url(#b1)"/><ellipse cx="1.5" cy="50" rx="2.5" ry="6" fill="#40c8b0" opacity="0.7" filter="url(#b1)"/><path d="M3.5,43.0C3.8,39.5 3.9,27.2 5.0,22.0C6.1,16.8 7.3,14.2 10.0,12.0C12.7,9.8 17.8,8.6 21.0,8.6C24.2,8.6 26.7,9.9 29.0,12.0C31.3,14.1 32.9,17.2 34.6,21.0C36.3,24.8 37.8,29.4 39.0,34.6C40.2,39.8 41.5,49.1 42.0,52.0" fill="none" stroke="#000" stroke-width="2.6" stroke-linecap="round" opacity="1" filter="url(#b1)"/><path d="M9.5,57.0C9.7,53.3 9.7,40.6 10.4,34.6C11.2,28.6 12.3,23.7 14.0,20.7C15.7,17.7 19.6,17.1 20.7,16.4" fill="none" stroke="#000" stroke-width="2.4" stroke-linecap="round" opacity="0.95" filter="url(#b1)"/><path d="M26.0,21.0C27.2,23.3 31.6,28.6 33.0,34.6C34.4,40.6 34.3,53.3 34.6,57.0" fill="none" stroke="#000" stroke-width="2" stroke-linecap="round" opacity="0.85" filter="url(#b1)"/><path d="M19.0,29.0C19.2,31.5 20.2,41.5 20.5,44.0" fill="none" stroke="#30c0c0" stroke-width="2.5" stroke-linecap="round" opacity="0.8" filter="url(#b1)"/><path d="M24.0,1.7C25.8,3.1 31.4,6.0 34.6,10.0C37.8,14.1 40.7,20.5 43.0,26.0C45.3,31.5 47.1,37.7 48.4,43.0C49.6,48.3 50.1,55.5 50.5,58.0" fill="none" stroke="#0c1ef4" stroke-width="4" stroke-linecap="round" opacity="0.97" filter="url(#b1)"/><path d="M26.0,3.0C27.3,4.0 31.3,5.8 34.0,9.0C36.7,12.2 40.7,19.8 42.0,22.0" fill="none" stroke="#28b0e0" stroke-width="1" stroke-linecap="round" opacity="0.6" filter="url(#b1)"/><path d="M58.5,10.0C58.5,18.3 58.5,51.7 58.5,60.0" fill="none" stroke="#0a1a90" stroke-width="3" stroke-linecap="round" opacity="0.5" filter="url(#b1)"/></g><text x="57.0" y="56.599999999999994" font-size="2.1" font-weight="bold" fill="#d8d8d8" text-anchor="end" filter="url(#b0)">100µm</text></g><clipPath id="cp10"><rect x="0" y="0" width="59.2" height="58.8"/></clipPath><g transform="translate(205.4,293.5)" clip-path="url(#cp10)"><g transform="scale(0.9867,0.9800)" filter="url(#tex)"><rect x="-1" y="-1" width="63" height="63" fill="#000010"/><path d="M15.5,2.0C21.0,0.0 40.6,0.8 46.0,2.0C51.4,3.2 48.2,5.7 48.0,9.0C47.8,12.3 46.5,17.7 45.0,22.0C43.5,26.3 41.3,31.2 39.0,35.0C36.7,38.8 34.2,42.3 31.0,45.0C27.8,47.7 22.8,50.8 20.0,51.0C17.2,51.2 14.8,49.5 14.0,46.0C13.2,42.5 15.2,35.3 15.0,30.0C14.8,24.7 12.9,18.7 13.0,14.0C13.1,9.3 10.0,4.0 15.5,2.0Z" fill="#0a1cd0" opacity="0.95" filter="url(#b2)"/><ellipse cx="45" cy="32" rx="4" ry="10" fill="#000" opacity="0.6" filter="url(#b2)" transform="rotate(25 45 32)"/><ellipse cx="10" cy="36" rx="4.5" ry="9" fill="#000" opacity="0.8" filter="url(#b2)"/><ellipse cx="22" cy="20" rx="2" ry="2" fill="#00083a" opacity="0.6" filter="url(#b1)"/><ellipse cx="30" cy="30" rx="2" ry="3" fill="#00083a" opacity="0.6" filter="url(#b1)"/><ellipse cx="35" cy="16" rx="2" ry="2" fill="#00083a" opacity="0.6" filter="url(#b1)"/><ellipse cx="26" cy="40" rx="3" ry="2" fill="#00083a" opacity="0.6" filter="url(#b1)"/><path d="M55.2,3.0C54.9,6.2 54.9,16.4 53.5,22.5C52.1,28.6 49.5,35.2 46.6,39.8C43.7,44.4 40.2,47.1 36.2,50.0C32.2,52.9 26.4,55.4 22.4,57.0C18.4,58.6 13.7,59.2 12.0,59.6" fill="none" stroke="#2040ff" stroke-width="2.8" stroke-linecap="round" opacity="1" filter="url(#b1)"/><ellipse cx="58" cy="2" rx="3" ry="3" fill="#2070e0" opacity="0.8" filter="url(#b1)"/><path d="M0,0L15,0L13,12L9,24L2,33L0,33Z" fill="#1030e0" opacity="0.95" filter="url(#b1)"/><ellipse cx="6" cy="12" rx="3" ry="7" fill="#28b0e0" opacity="0.3" filter="url(#b2)"/><path d="M15.5,0.0C15.2,1.7 14.8,6.2 14.0,10.0C13.2,13.8 12.3,18.7 10.5,22.5C8.7,26.3 4.2,31.2 3.0,33.0" fill="none" stroke="#000" stroke-width="2.2" stroke-linecap="round" opacity="0.9" filter="url(#b1)"/><path d="M13.5,1.0C13.2,2.7 12.8,7.5 12.0,11.0C11.2,14.5 10.2,18.7 8.5,22.0C6.8,25.3 3.1,29.5 2.0,31.0" fill="none" stroke="#28b0e0" stroke-width="1.2" stroke-linecap="round" opacity="0.8" filter="url(#b1)"/><path d="M1.0,0.0C1.0,5.3 1.0,26.7 1.0,32.0" fill="none" stroke="#40d0a0" stroke-width="2.2" stroke-linecap="round" opacity="0.9" filter="url(#b1)"/><path d="M0,33.5L5,35L6.5,44L6,51L0,51Z" fill="#60f060" opacity="1" filter="url(#b1)"/><path d="M0,50L7,50L9,60L0,60Z" fill="#40d8a0" opacity="0.9" filter="url(#b1)"/></g><text x="57.0" y="56.599999999999994" font-size="2.1" font-weight="bold" fill="#d8d8d8" text-anchor="end" filter="url(#b0)">100µm</text></g><clipPath id="cp11"><rect x="0" y="0" width="59.2" height="58.8"/></clipPath><g transform="translate(265.9,293.5)" clip-path="url(#cp11)"><g transform="scale(0.9867,0.9800)" filter="url(#tex)"><rect x="-1" y="-1" width="63" height="63" fill="#000010"/><path d="M0,0L44,0L40,5L31,15.5L17,22.5L0,20.7Z" fill="#0c1ef4" opacity="0.95" filter="url(#b1)"/><path d="M35.0,7.0C36.3,6.3 40.2,3.8 43.0,3.0C45.8,2.2 50.5,2.6 52.0,2.5" fill="none" stroke="#2060f0" stroke-width="3" stroke-linecap="round" opacity="0.8" filter="url(#b1)"/><ellipse cx="56" cy="5" rx="6" ry="6" fill="#081490" opacity="0.7" filter="url(#b2)"/><path d="M0.0,28.5C2.8,28.8 12.2,30.4 17.0,30.0C21.8,29.6 26.1,27.8 29.0,26.0C31.9,24.2 33.7,20.2 34.6,19.0" fill="none" stroke="#0c1ef4" stroke-width="4" stroke-linecap="round" opacity="0.9" filter="url(#b1)"/><path d="M0.0,38.0C1.7,38.5 6.7,40.8 10.4,41.0C14.2,41.2 19.3,40.9 22.5,39.5C25.7,38.1 28.2,33.7 29.4,32.5" fill="none" stroke="#0c1ef4" stroke-width="5.5" stroke-linecap="round" opacity="0.9" filter="url(#b1)"/><path d="M0.0,37.5C1.7,38.0 7.4,40.1 10.4,40.6C13.4,41.1 16.7,40.3 18.0,40.2" fill="none" stroke="#28b0e0" stroke-width="2" stroke-linecap="round" opacity="0.95" filter="url(#b1)"/><path d="M18.0,40.2C19.0,39.8 22.1,39.4 24.0,38.0C25.9,36.6 28.5,33.0 29.4,32.0" fill="none" stroke="#2070e8" stroke-width="1.6" stroke-linecap="round" opacity="0.8" filter="url(#b1)"/><path d="M0,44L24,44L30,40L31,50L28,60L0,60Z" fill="#0814a8" opacity="0.85" filter="url(#b2)"/><ellipse cx="45" cy="33" rx="13.5" ry="19" fill="#000" opacity="0.95" filter="url(#b2)"/><path d="M58.0,31.0C57.3,33.6 56.1,42.4 53.6,46.7C51.1,51.0 44.8,55.3 43.0,57.0" fill="none" stroke="#0a1cc0" stroke-width="3" stroke-linecap="round" opacity="0.7" filter="url(#b1)"/></g><text x="57.0" y="56.599999999999994" font-size="2.1" font-weight="bold" fill="#d8d8d8" text-anchor="end" filter="url(#b0)">100µm</text></g><clipPath id="cp12"><rect x="0" y="0" width="59.2" height="58.8"/></clipPath><g transform="translate(326.5,293.5)" clip-path="url(#cp12)"><g transform="scale(0.9867,0.9800)" filter="url(#tex)"><rect x="-1" y="-1" width="63" height="63" fill="#00000c"/><path d="M1.5,2.0C3.8,-0.5 11.8,-0.7 14.0,2.0C16.2,4.7 15.2,13.3 15.0,18.0C14.8,22.7 14.3,27.0 13.0,30.0C11.7,33.0 8.7,36.0 7.0,36.0C5.3,36.0 4.1,33.2 3.0,30.0C1.9,26.8 0.8,21.7 0.5,17.0C0.2,12.3 -0.8,4.5 1.5,2.0Z" fill="#0a1cd0" opacity="0.9" filter="url(#b1)"/><path d="M12.0,4.0C12.5,6.3 14.8,13.2 15.0,18.0C15.2,22.8 13.3,30.5 13.0,33.0" fill="none" stroke="#0814a8" stroke-width="4" stroke-linecap="round" opacity="0.7" filter="url(#b1)"/><ellipse cx="31" cy="14" rx="5.5" ry="12" fill="#0816a0" opacity="0.7" filter="url(#b2)"/><path d="M24.0,3.5C23.7,5.2 22.0,10.1 22.3,13.8C22.6,17.6 24.2,22.5 25.8,26.0C27.4,29.5 30.8,33.2 31.8,34.6" fill="none" stroke="#2040ff" stroke-width="3.2" stroke-linecap="round" opacity="0.95" filter="url(#b1)"/><ellipse cx="52" cy="9" rx="8" ry="9" fill="#06128c" opacity="0.7" filter="url(#b2)"/><path d="M47.0,2.0C47.2,4.7 47.8,15.3 48.0,18.0" fill="none" stroke="#0a1cb0" stroke-width="2.5" stroke-linecap="round" opacity="0.5" filter="url(#b1)"/><path d="M55.0,2.0C55.2,4.3 55.8,13.7 56.0,16.0" fill="none" stroke="#0a1cb0" stroke-width="2.5" stroke-linecap="round" opacity="0.5" filter="url(#b1)"/><path d="M1.5,1.7C1.3,4.2 0.2,11.8 0.4,17.0C0.6,22.2 1.1,28.3 2.4,33.0C3.8,37.7 6.3,41.6 8.5,45.0C10.7,48.4 13.4,51.3 15.4,53.6C17.4,55.9 19.7,57.9 20.6,58.8" fill="none" stroke="#2060f0" stroke-width="2" stroke-linecap="round" opacity="0.95" filter="url(#b1)"/><path d="M0.6,24.0C1.0,25.8 1.7,31.5 3.0,35.0C4.3,38.5 7.6,43.3 8.5,45.0" fill="none" stroke="#40b0e8" stroke-width="1.3" stroke-linecap="round" opacity="0.8" filter="url(#b1)"/></g><text x="57.0" y="56.599999999999994" font-size="2.1" font-weight="bold" fill="#d8d8d8" text-anchor="end" filter="url(#b0)">100µm</text></g><clipPath id="cp13"><rect x="0" y="0" width="59.2" height="58.8"/></clipPath><g transform="translate(387.1,293.5)" clip-path="url(#cp13)"><g transform="scale(0.9867,0.9800)" filter="url(#tex)"><rect x="-1" y="-1" width="63" height="63" fill="#000008"/><path d="M0,6L10,3L24,2L18,10L8,20L0,24Z" fill="#0a18b0" opacity="0.7" filter="url(#b2)"/><ellipse cx="50" cy="6" rx="12" ry="4" fill="#061290" opacity="0.7" filter="url(#b2)"/><ellipse cx="20" cy="48" rx="4" ry="11" fill="#0a1cc0" opacity="0.78" filter="url(#b2)" transform="rotate(8 20 48)"/><path d="M1.0,20.0C1.0,26.7 1.0,53.3 1.0,60.0" fill="none" stroke="#061080" stroke-width="2" stroke-linecap="round" opacity="0.6" filter="url(#b1)"/></g><text x="57.0" y="56.599999999999994" font-size="2.1" font-weight="bold" fill="#d8d8d8" text-anchor="end" filter="url(#b0)">100µm</text></g><clipPath id="cp14"><rect x="0" y="0" width="59.2" height="58.8"/></clipPath><g transform="translate(454,293.5)" clip-path="url(#cp14)"><g transform="scale(0.9867,0.9800)"><rect x="-1" y="-1" width="63" height="63" fill="#000"/><ellipse cx="5" cy="50" rx="3" ry="5" fill="#040a40" opacity="0.6" filter="url(#b2)"/></g><text x="57.0" y="56.599999999999994" font-size="2.1" font-weight="bold" fill="#d8d8d8" text-anchor="end" filter="url(#b0)">100µm</text></g><clipPath id="cp15"><rect x="0" y="0" width="59.2" height="58.8"/></clipPath><g transform="translate(515.4,293.5)" clip-path="url(#cp15)"><g transform="scale(0.9867,0.9800)"><rect x="-1" y="-1" width="63" height="63" fill="#000"/></g><text x="57.0" y="56.599999999999994" font-size="2.1" font-weight="bold" fill="#d8d8d8" text-anchor="end" filter="url(#b0)">100µm</text></g><clipPath id="cp16"><rect x="0" y="0" width="59.2" height="58.8"/></clipPath><g transform="translate(576.6,293.5)" clip-path="url(#cp16)"><g transform="scale(0.9867,0.9800)"><rect x="-1" y="-1" width="63" height="63" fill="#000"/><ellipse cx="33" cy="10.7" rx="2" ry="2" fill="#081060" opacity="0.7" filter="url(#b1)"/></g><text x="57.0" y="56.599999999999994" font-size="2.1" font-weight="bold" fill="#d8d8d8" text-anchor="end" filter="url(#b0)">100µm</text></g><clipPath id="cp17"><rect x="0" y="0" width="59" height="58.8"/></clipPath><g transform="translate(637.7,293.5)" clip-path="url(#cp17)"><g transform="scale(0.9833,0.9800)"><rect x="-1" y="-1" width="63" height="63" fill="#000"/><ellipse cx="8.6" cy="24.5" rx="1.5" ry="3" fill="#081060" opacity="0.6" filter="url(#b1)"/></g><text x="56.8" y="56.599999999999994" font-size="2.1" font-weight="bold" fill="#d8d8d8" text-anchor="end" filter="url(#b0)">100µm</text></g><clipPath id="cp18"><rect x="0" y="0" width="59.2" height="58.4"/></clipPath><g transform="translate(23.7,358.8)" clip-path="url(#cp18)"><g transform="scale(0.9867,0.9733)" filter="url(#tex)"><rect x="-1" y="-1" width="63" height="63" fill="#0c1ef4"/><path d="M0,25L10.4,30.3L19,40.7L26,51L31,60L0,60Z" fill="#3088f0" opacity="0.95" filter="url(#b1)"/><path d="M0,40L8,44L14,52L16,60L0,60Z" fill="#48e880" opacity="0.9" filter="url(#b2)"/><path d="M17.0,40.0C18.0,41.7 21.2,46.8 23.0,50.0C24.8,53.2 27.2,57.5 28.0,59.0" fill="none" stroke="#40d890" stroke-width="2.5" stroke-linecap="round" opacity="0.7" filter="url(#b1)"/><path d="M36,0L60,0L60,26L56,26L50,14L42,5Z" fill="#000" opacity="0.95" filter="url(#b1)"/><path d="M39.8,2.7C41.8,4.1 49.0,7.9 52.0,11.3C55.0,14.8 57.0,21.4 58.0,23.4" fill="none" stroke="#0c1ef4" stroke-width="3" stroke-linecap="round" opacity="1" filter="url(#b1)"/><path d="M3.5,21.7C3.8,20.0 3.2,13.9 5.0,11.3C6.8,8.7 10.5,6.5 14.0,6.0C17.5,5.5 22.0,6.0 26.0,8.0C30.0,10.0 34.0,13.7 38.0,18.0C42.0,22.3 47.2,28.8 50.0,34.0C52.8,39.2 54.2,46.5 55.0,49.0" fill="none" stroke="#000" stroke-width="3" stroke-linecap="round" opacity="1" filter="url(#b1)"/><path d="M10.4,18.0C12.1,17.5 17.3,14.2 20.7,14.8C24.1,15.4 27.8,18.2 31.0,21.7C34.2,25.1 37.8,30.9 39.8,35.5C41.8,40.0 42.5,46.8 43.0,49.0" fill="none" stroke="#000" stroke-width="2.6" stroke-linecap="round" opacity="0.95" filter="url(#b1)"/><path d="M22.5,33.8C24.5,36.4 32.6,46.7 34.6,49.3" fill="none" stroke="#000" stroke-width="2.5" stroke-linecap="round" opacity="0.8" filter="url(#b1)"/><path d="M26.0,49.0C28.6,50.2 38.9,54.8 41.5,56.0" fill="none" stroke="#000" stroke-width="3" stroke-linecap="round" opacity="0.85" filter="url(#b1)"/><ellipse cx="1.5" cy="25.5" rx="2.5" ry="2.2" fill="#000" opacity="0.95" filter="url(#b1)"/><path d="M37.0,25.0C38.0,27.9 42.0,39.5 43.0,42.4" fill="none" stroke="#2080f0" stroke-width="2" stroke-linecap="round" opacity="0.8" filter="url(#b1)"/><path d="M52.0,36.0C52.5,39.7 54.5,54.3 55.0,58.0" fill="none" stroke="#000a50" stroke-width="3" stroke-linecap="round" opacity="0.6" filter="url(#b1)"/><path d="M59.0,20.0C59.0,26.7 59.0,53.3 59.0,60.0" fill="none" stroke="#2080e0" stroke-width="2.5" stroke-linecap="round" opacity="0.8" filter="url(#b1)"/></g><text x="57.0" y="56.199999999999996" font-size="2.1" font-weight="bold" fill="#d8d8d8" text-anchor="end" filter="url(#b0)">100µm</text></g><clipPath id="cp19"><rect x="0" y="0" width="59.2" height="58.4"/></clipPath><g transform="translate(84.3,358.8)" clip-path="url(#cp19)"><g transform="scale(0.9867,0.9733)" filter="url(#tex)"><rect x="-1" y="-1" width="63" height="63" fill="#00000c"/><path d="M16,0L39,0L37,18L32,34L26,46L22.5,60L0,60L0,36L8,28L14,14Z" fill="#0c1ef4" opacity="0.97" filter="url(#b1)"/><path d="M0,0L16.4,0L15.5,9.6L12,16.5L8.6,21.7L1.7,32L0,32Z" fill="#48e858" opacity="0.97" filter="url(#b1)"/><ellipse cx="13.5" cy="8" rx="2.5" ry="7" fill="#60f860" opacity="0.9" filter="url(#b1)"/><path d="M0,30L5,28L4,40L0,42Z" fill="#2090e0" opacity="0.9" filter="url(#b1)"/><path d="M20.7,4.4C20.2,6.4 19.4,12.8 18.0,16.5C16.6,20.2 14.3,23.6 12.0,26.9C9.7,30.2 6.2,34.1 4.3,36.4C2.3,38.7 1.0,40.0 0.3,40.7" fill="none" stroke="#000" stroke-width="1.8" stroke-linecap="round" opacity="0.85" filter="url(#b1)"/><path d="M40.0,0.0C39.7,2.3 38.8,9.3 38.0,14.0C37.2,18.7 36.3,23.3 35.0,28.0C33.7,32.7 31.3,37.0 30.0,42.0C28.7,47.0 27.5,55.3 27.0,58.0" fill="none" stroke="#000" stroke-width="4.5" stroke-linecap="round" opacity="0.9" filter="url(#b1)"/><path d="M20.0,58.0C20.8,55.3 23.3,47.0 25.0,42.0C26.7,37.0 29.2,30.3 30.0,28.0" fill="none" stroke="#000a50" stroke-width="2" stroke-linecap="round" opacity="0.5" filter="url(#b1)"/><path d="M60.0,25.0C58.9,27.6 56.4,36.0 53.6,40.7C50.8,45.4 45.9,49.8 43.0,53.0C40.1,56.2 37.4,58.8 36.3,60.0" fill="none" stroke="#0c1ef4" stroke-width="4" stroke-linecap="round" opacity="0.97" filter="url(#b1)"/></g><text x="57.0" y="56.199999999999996" font-size="2.1" font-weight="bold" fill="#d8d8d8" text-anchor="end" filter="url(#b0)">100µm</text></g><clipPath id="cp20"><rect x="0" y="0" width="59.2" height="58.4"/></clipPath><g transform="translate(144.8,358.8)" clip-path="url(#cp20)"><g transform="scale(0.9867,0.9733)" filter="url(#tex)"><rect x="-1" y="-1" width="63" height="63" fill="#00000c"/><path d="M15.5,3.5C19.3,-1.0 34.6,1.1 40.0,3.0C45.4,4.9 46.3,9.7 48.0,15.0C49.7,20.3 50.5,28.0 50.0,35.0C49.5,42.0 48.3,52.8 45.0,57.0C41.7,61.2 33.8,62.0 30.0,60.0C26.2,58.0 24.2,50.0 22.0,45.0C19.8,40.0 18.1,36.9 17.0,30.0C15.9,23.1 11.7,8.0 15.5,3.5Z" fill="#0610a0" opacity="0.9" filter="url(#b2)"/><ellipse cx="24" cy="22" rx="8" ry="8" fill="#0a1cd0" opacity="0.7" filter="url(#b3)"/><path d="M0,0L17,0L14,4L6,8L5,19L5,42L0,44Z" fill="#48e858" opacity="0.95" filter="url(#b1)"/><ellipse cx="9.5" cy="14.5" rx="4.5" ry="4.5" fill="#60f860" opacity="1" filter="url(#b1)"/><path d="M6.0,19.0C6.4,21.3 7.3,28.7 8.6,33.0C9.9,37.3 12.0,40.8 14.0,45.0C16.0,49.2 19.6,55.8 20.7,58.0" fill="none" stroke="#48e858" stroke-width="4" stroke-linecap="round" opacity="0.95" filter="url(#b1)"/><path d="M0,43L5,42L10,52L14,60L0,60Z" fill="#2080e0" opacity="0.9" filter="url(#b1)"/><path d="M3.0,3.0C4.0,3.3 6.7,5.2 9.0,5.0C11.3,4.8 15.7,2.5 17.0,2.0" fill="none" stroke="#000" stroke-width="2.3" stroke-linecap="round" opacity="1" filter="url(#b1)"/><path d="M4.0,8.0C5.0,7.8 8.0,7.3 10.0,7.0C12.0,6.7 15.0,6.2 16.0,6.0" fill="none" stroke="#000" stroke-width="2.1" stroke-linecap="round" opacity="1" filter="url(#b1)"/><path d="M9.0,1.0C8.8,2.2 8.2,6.8 8.0,8.0" fill="none" stroke="#000" stroke-width="1.8" stroke-linecap="round" opacity="1" filter="url(#b1)"/><path d="M4.3,10.0C4.2,12.7 3.0,21.0 3.5,26.0C4.0,31.0 6.4,37.7 7.0,40.0" fill="none" stroke="#000" stroke-width="1.6" stroke-linecap="round" opacity="0.9" filter="url(#b1)"/><path d="M7.0,21.0C7.1,22.8 6.8,28.2 7.5,32.0C8.2,35.8 10.8,42.0 11.5,44.0" fill="none" stroke="#000" stroke-width="1.6" stroke-linecap="round" opacity="0.85" filter="url(#b1)"/><path d="M14.0,19.0C13.8,20.7 12.5,25.2 13.0,29.0C13.5,32.8 15.2,37.4 17.0,41.5C18.8,45.6 22.8,51.6 24.0,53.6" fill="none" stroke="#000" stroke-width="1.5" stroke-linecap="round" opacity="0.9" filter="url(#b1)"/><path d="M16.4,22.5C16.5,24.5 16.3,30.6 17.3,34.6C18.3,38.6 20.6,42.8 22.5,46.7C24.4,50.6 27.5,56.1 28.5,58.0" fill="none" stroke="#0c1ef4" stroke-width="3" stroke-linecap="round" opacity="0.95" filter="url(#b1)"/><path d="M16.6,25.0C16.8,26.7 17.4,33.3 17.5,35.0" fill="none" stroke="#28b0e0" stroke-width="1" stroke-linecap="round" opacity="0.6" filter="url(#b1)"/><path d="M19.0,17.0C19.2,19.3 18.8,26.3 20.0,31.0C21.2,35.7 24.0,40.7 26.0,45.0C28.0,49.3 31.0,55.0 32.0,57.0" fill="none" stroke="#000" stroke-width="1.5" stroke-linecap="round" opacity="0.7" filter="url(#b1)"/><path d="M24.0,4.0C26.3,4.7 35.7,7.3 38.0,8.0" fill="none" stroke="#28b0e0" stroke-width="1.5" stroke-linecap="round" opacity="0.5" filter="url(#b1)"/></g><text x="57.0" y="56.199999999999996" font-size="2.1" font-weight="bold" fill="#d8d8d8" text-anchor="end" filter="url(#b0)">100µm</text></g><clipPath id="cp21"><rect x="0" y="0" width="59.2" height="58.4"/></clipPath><g transform="translate(205.4,358.8)" clip-path="url(#cp21)"><g transform="scale(0.9867,0.9733)" filter="url(#tex)"><rect x="-1" y="-1" width="63" height="63" fill="#00000c"/><path d="M15.5,2L58,2L58,30L46,36L33,47L26,40L17,34Z" fill="#0814b4" opacity="0.9" filter="url(#b2)"/><ellipse cx="30" cy="14" rx="12" ry="9" fill="#0a1cd8" opacity="0.6" filter="url(#b3)"/><path d="M29.0,26.0C29.2,29.3 29.8,42.7 30.0,46.0" fill="none" stroke="#0a1cd0" stroke-width="4" stroke-linecap="round" opacity="0.8" filter="url(#b2)"/><path d="M0,0L4,0L1,14L0,14Z" fill="#1840e0" opacity="1" filter="url(#b1)"/><path d="M0,44L3,46L8,60L0,60Z" fill="#2060e0" opacity="0.9" filter="url(#b1)"/><path d="M11.0,0.0C10.7,2.8 9.7,11.2 9.4,17.0C9.1,22.8 8.8,29.1 9.4,34.6C10.0,40.1 11.6,45.8 12.9,50.0C14.2,54.2 16.5,58.0 17.2,59.6" fill="none" stroke="#0c1ef4" stroke-width="3.2" stroke-linecap="round" opacity="0.95" filter="url(#b1)"/><path d="M12.5,3.5C12.3,5.8 11.7,14.8 11.5,17.0" fill="none" stroke="#28b0e0" stroke-width="1.5" stroke-linecap="round" opacity="0.8" filter="url(#b1)"/><path d="M7.7,0.0C7.4,2.9 6.3,11.5 6.0,17.3C5.7,23.1 5.4,29.2 6.0,34.6C6.6,40.1 8.2,45.8 9.4,50.0C10.6,54.2 12.3,58.0 12.9,59.6" fill="none" stroke="#000" stroke-width="2" stroke-linecap="round" opacity="1" filter="url(#b1)"/><path d="M15.5,0.0C15.1,2.8 13.3,11.2 12.9,17.0C12.5,22.8 12.3,29.1 12.9,34.6C13.5,40.1 15.0,45.8 16.3,50.0C17.6,54.2 19.9,58.0 20.6,59.6" fill="none" stroke="#000" stroke-width="2" stroke-linecap="round" opacity="0.9" filter="url(#b1)"/><path d="M4.2,0.0C3.8,2.3 2.6,9.1 2.0,14.0C1.4,18.9 0.6,24.2 0.8,29.4C1.0,34.6 2.1,40.0 3.4,45.0C4.7,50.0 7.7,57.2 8.5,59.6" fill="none" stroke="#58f058" stroke-width="3.3" stroke-linecap="round" opacity="1" filter="url(#b1)"/></g><text x="57.0" y="56.199999999999996" font-size="2.1" font-weight="bold" fill="#d8d8d8" text-anchor="end" filter="url(#b0)">100µm</text></g><clipPath id="cp22"><rect x="0" y="0" width="59.2" height="58.4"/></clipPath><g transform="translate(265.9,358.8)" clip-path="url(#cp22)"><g transform="scale(0.9867,0.9733)" filter="url(#tex)"><rect x="-1" y="-1" width="63" height="63" fill="#00000c"/><path d="M5.0,3.0C7.8,-3.2 18.3,1.0 22.0,3.0C25.7,5.0 26.2,10.2 27.0,15.0C27.8,19.8 28.0,26.5 27.0,32.0C26.0,37.5 24.0,44.2 21.0,48.0C18.0,51.8 11.7,56.3 9.0,55.0C6.3,53.7 5.7,48.7 5.0,40.0C4.3,31.3 2.2,9.2 5.0,3.0Z" fill="#030a58" opacity="0.75" filter="url(#b2)"/><path d="M10.0,3.5C9.8,6.4 8.5,14.6 8.6,20.7C8.7,26.8 9.2,34.5 10.4,40.0C11.6,45.5 14.7,51.3 15.5,53.6" fill="none" stroke="#0612a0" stroke-width="3" stroke-linecap="round" opacity="0.8" filter="url(#b2)"/><path d="M22.5,3.5C23.4,5.5 27.0,10.6 27.7,15.5C28.4,20.4 28.0,27.3 26.8,32.8C25.6,38.3 21.7,45.8 20.7,48.4" fill="none" stroke="#0a1cd0" stroke-width="3.5" stroke-linecap="round" opacity="0.9" filter="url(#b1)"/><ellipse cx="20.7" cy="27.7" rx="3" ry="4.5" fill="#0c1ef4" opacity="0.8" filter="url(#b1)"/><path d="M51,3L60,3L60,60L42,60L50,40L54,25Z" fill="#000a48" opacity="0.8" filter="url(#b2)"/><path d="M46.7,1.7C47.4,3.7 50.5,8.9 51.0,13.8C51.5,18.7 51.0,25.8 50.0,31.0C49.0,36.2 47.0,41.0 45.0,45.0C43.0,49.0 39.2,53.3 38.0,55.0" fill="none" stroke="#1028e8" stroke-width="2.5" stroke-linecap="round" opacity="0.95" filter="url(#b1)"/><path d="M1.5,0.0C1.5,6.8 1.5,34.2 1.5,41.0" fill="none" stroke="#1030f0" stroke-width="4" stroke-linecap="round" opacity="0.95" filter="url(#b1)"/><path d="M1.2,40.0C1.2,43.2 1.2,55.8 1.2,59.0" fill="none" stroke="#30d890" stroke-width="3" stroke-linecap="round" opacity="0.95" filter="url(#b1)"/></g><text x="57.0" y="56.199999999999996" font-size="2.1" font-weight="bold" fill="#d8d8d8" text-anchor="end" filter="url(#b0)">100µm</text></g><clipPath id="cp23"><rect x="0" y="0" width="59.2" height="58.4"/></clipPath><g transform="translate(326.5,358.8)" clip-path="url(#cp23)"><g transform="scale(0.9867,0.9733)" filter="url(#tex)"><rect x="-1" y="-1" width="63" height="63" fill="#00000c"/><path d="M2.4,17L8.5,19L8.5,58L2.4,58Z" fill="#0a1cc0" opacity="0.8" filter="url(#b1)"/><path d="M6.0,57.0C6.2,53.5 6.3,42.3 7.0,36.0C7.7,29.7 8.3,23.4 10.0,19.0C11.7,14.6 14.5,11.1 17.0,9.5C19.5,7.9 23.0,8.1 25.0,9.5C27.0,10.9 28.1,14.2 29.0,18.0C29.9,21.8 30.3,27.5 30.5,32.0C30.7,36.5 30.4,41.0 30.0,45.0C29.6,49.0 28.3,54.2 28.0,56.0" fill="none" stroke="#0c1ef4" stroke-width="7" stroke-linecap="round" opacity="0.95" filter="url(#b1)"/><ellipse cx="17" cy="33" rx="4.5" ry="14" fill="#0610a0" opacity="0.9" filter="url(#b2)"/><ellipse cx="19" cy="13" rx="9" ry="6" fill="#0c1ef4" opacity="0.8" filter="url(#b2)"/><path d="M23.0,13.0C23.9,14.8 27.2,19.8 28.5,24.0C29.8,28.2 30.2,35.7 30.5,38.0" fill="none" stroke="#2040ff" stroke-width="3.2" stroke-linecap="round" opacity="0.7" filter="url(#b2)"/><ellipse cx="20" cy="43" rx="3.3" ry="9" fill="#000" opacity="0.85" filter="url(#b1)"/><path d="M39.6,1.7C41.3,3.2 47.5,6.4 50.0,10.4C52.5,14.4 53.9,20.6 54.3,26.0C54.7,31.4 53.8,38.2 52.5,43.0C51.2,47.8 47.5,53.0 46.5,55.0" fill="none" stroke="#0a1cb0" stroke-width="2.5" stroke-linecap="round" opacity="0.85" filter="url(#b1)"/><path d="M1.2,0.0C1.2,10.0 1.2,50.0 1.2,60.0" fill="none" stroke="#2060e8" stroke-width="2.5" stroke-linecap="round" opacity="0.9" filter="url(#b1)"/><ellipse cx="1" cy="4" rx="1.3" ry="3" fill="#48e858" opacity="0.9" filter="url(#b1)"/></g><text x="57.0" y="56.199999999999996" font-size="2.1" font-weight="bold" fill="#d8d8d8" text-anchor="end" filter="url(#b0)">100µm</text></g><clipPath id="cp24"><rect x="0" y="0" width="59.2" height="58.4"/></clipPath><g transform="translate(387.1,358.8)" clip-path="url(#cp24)"><g transform="scale(0.9867,0.9733)" filter="url(#tex)"><rect x="-1" y="-1" width="63" height="63" fill="#00000c"/><path d="M0,0L26,0L24,14L25,30L30,38L27,42L26,60L0,60Z" fill="#0c1ef4" opacity="0.95" filter="url(#b1)"/><path d="M44,3L60,3L60,36L48,36L44,20Z" fill="#0a1cd0" opacity="0.85" filter="url(#b2)"/><path d="M50,36L60,36L60,60L50,60Z" fill="#06108c" opacity="0.8" filter="url(#b2)"/><path d="M12.0,3.0C11.0,5.8 6.7,13.8 6.0,20.0C5.3,26.2 5.7,34.0 8.0,40.0C10.3,46.0 18.0,53.3 20.0,56.0" fill="none" stroke="#000" stroke-width="2" stroke-linecap="round" opacity="0.85" filter="url(#b1)"/><path d="M20.0,3.0C19.5,5.8 16.7,14.2 17.0,20.0C17.3,25.8 19.8,33.3 22.0,38.0C24.2,42.7 28.7,46.3 30.0,48.0" fill="none" stroke="#000" stroke-width="2" stroke-linecap="round" opacity="0.85" filter="url(#b1)"/><path d="M30.0,4.0C29.5,6.0 27.3,12.0 27.0,16.0C26.7,20.0 27.2,24.8 28.0,28.0C28.8,31.2 31.3,33.8 32.0,35.0" fill="none" stroke="#0c1ef4" stroke-width="4" stroke-linecap="round" opacity="0.9" filter="url(#b1)"/><path d="M27.0,3.0C26.3,5.0 23.5,10.8 23.0,15.0C22.5,19.2 23.2,24.7 24.0,28.0C24.8,31.3 27.3,33.8 28.0,35.0" fill="none" stroke="#30a0e0" stroke-width="1.8" stroke-linecap="round" opacity="0.9" filter="url(#b1)"/><path d="M35.0,5.0C34.4,7.5 31.3,15.2 31.5,20.0C31.7,24.8 35.2,31.7 36.0,34.0" fill="none" stroke="#000" stroke-width="2.5" stroke-linecap="round" opacity="0.9" filter="url(#b1)"/><path d="M39.0,8.0C38.7,10.7 36.3,19.5 37.0,24.0C37.7,28.5 42.0,33.2 43.0,35.0" fill="none" stroke="#0c1ef4" stroke-width="4" stroke-linecap="round" opacity="0.9" filter="url(#b1)"/><ellipse cx="52" cy="9" rx="3" ry="6" fill="#30b0d0" opacity="0.9" filter="url(#b1)"/><path d="M28.0,39.0C31.5,36.2 45.3,35.5 49.0,38.0C52.7,40.5 53.5,51.2 50.0,54.0C46.5,56.8 31.7,57.5 28.0,55.0C24.3,52.5 24.5,41.8 28.0,39.0Z" fill="#000" opacity="0.95" filter="url(#b2)"/><path d="M25.0,58.0C30.8,58.0 54.2,58.0 60.0,58.0" fill="none" stroke="#0a1c98" stroke-width="4" stroke-linecap="round" opacity="0.8" filter="url(#b1)"/></g><text x="57.0" y="56.199999999999996" font-size="2.1" font-weight="bold" fill="#d8d8d8" text-anchor="end" filter="url(#b0)">100µm</text></g><clipPath id="cp25"><rect x="0" y="0" width="59.2" height="58.4"/></clipPath><g transform="translate(454,358.8)" clip-path="url(#cp25)"><g transform="scale(0.9867,0.9733)"><rect x="-1" y="-1" width="63" height="63" fill="#000"/><path d="M0,0L22,0L18,8L8,12L0,12Z" fill="#0a1ce8" opacity="0.95" filter="url(#b2)"/><path d="M10.0,10.0C12.0,11.0 18.3,14.0 22.0,16.0C25.7,18.0 30.3,21.0 32.0,22.0" fill="none" stroke="#081490" stroke-width="4" stroke-linecap="round" opacity="0.6" filter="url(#b2)"/></g><text x="57.0" y="56.199999999999996" font-size="2.1" font-weight="bold" fill="#d8d8d8" text-anchor="end" filter="url(#b0)">100µm</text></g><clipPath id="cp26"><rect x="0" y="0" width="59.2" height="58.4"/></clipPath><g transform="translate(515.4,358.8)" clip-path="url(#cp26)"><g transform="scale(0.9867,0.9733)"><rect x="-1" y="-1" width="63" height="63" fill="#000"/><path d="M0,0L12,0L8,6L0,8Z" fill="#0a1cd8" opacity="0.9" filter="url(#b2)"/><ellipse cx="2" cy="30" rx="3" ry="4" fill="#0a1cd8" opacity="0.9" filter="url(#b1)"/><ellipse cx="54" cy="56" rx="4.5" ry="3.5" fill="#1028f0" opacity="0.95" filter="url(#b1)"/></g><text x="57.0" y="56.199999999999996" font-size="2.1" font-weight="bold" fill="#d8d8d8" text-anchor="end" filter="url(#b0)">100µm</text></g><clipPath id="cp27"><rect x="0" y="0" width="59.2" height="58.4"/></clipPath><g transform="translate(576.6,358.8)" clip-path="url(#cp27)"><g transform="scale(0.9867,0.9733)"><rect x="-1" y="-1" width="63" height="63" fill="#000"/><path d="M3.0,4.0C6.7,5.7 18.0,10.5 25.0,14.0C32.0,17.5 41.7,23.2 45.0,25.0" fill="none" stroke="#081080" stroke-width="4" stroke-linecap="round" opacity="0.6" filter="url(#b2)"/><path d="M0.0,40.0C1.0,40.5 4.0,41.8 6.0,43.0C8.0,44.2 11.0,46.3 12.0,47.0" fill="none" stroke="#0a1cc8" stroke-width="2.5" stroke-linecap="round" opacity="0.9" filter="url(#b1)"/></g><text x="57.0" y="56.199999999999996" font-size="2.1" font-weight="bold" fill="#d8d8d8" text-anchor="end" filter="url(#b0)">100µm</text></g><clipPath id="cp28"><rect x="0" y="0" width="59" height="58.4"/></clipPath><g transform="translate(637.7,358.8)" clip-path="url(#cp28)"><g transform="scale(0.9833,0.9733)"><rect x="-1" y="-1" width="63" height="63" fill="#000"/><ellipse cx="13" cy="33" rx="4" ry="3" fill="#081080" opacity="0.6" filter="url(#b2)"/><ellipse cx="2" cy="50" rx="3" ry="5" fill="#081490" opacity="0.7" filter="url(#b2)"/></g><text x="56.8" y="56.199999999999996" font-size="2.1" font-weight="bold" fill="#d8d8d8" text-anchor="end" filter="url(#b0)">100µm</text></g>
</g>
</svg></body></html>
